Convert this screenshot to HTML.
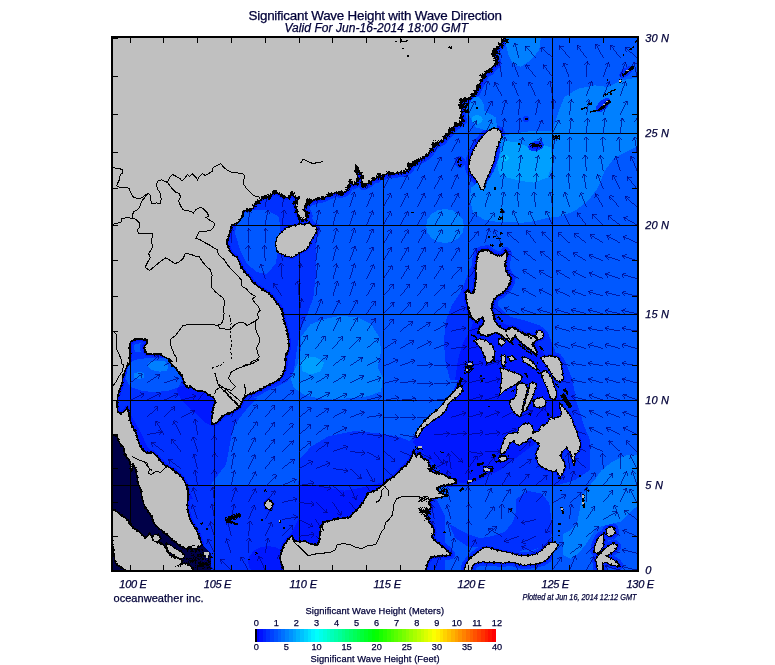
<!DOCTYPE html>
<html lang="en"><head><meta charset="utf-8"><title>Significant Wave Height with Wave Direction</title>
<style>html,body{margin:0;padding:0;background:#fff}body{width:775px;height:665px;overflow:hidden}svg{display:block}text{font-family:"Liberation Sans",Arial,sans-serif;fill:#000038;stroke:#000038;stroke-width:0.25px}.i{font-style:italic}</style></head><body>
<svg width="775" height="665" viewBox="0 0 775 665">
<rect width="775" height="665" fill="#fff"/>
<defs><clipPath id="mc"><rect x="112" y="37" width="526" height="534"/></clipPath></defs>
<g clip-path="url(#mc)" shape-rendering="crispEdges">
<rect x="112" y="37" width="526" height="534" fill="#0058ff"/>
<path d="M220.1,243.7 226.8,226.9 236.9,206.8 253.7,193.4 277.2,190 297.3,193.4 307.3,210.1 314.1,221.9 317.4,226.9 316.7,237 316.1,257.1 315.7,277.2 313.4,297.3 306.7,315.8 300,330.9 296.6,351 293.9,371.1 287.2,381.2 273.8,387.9 260.4,393 247,396.3 233.5,391.3 233.5,324.2 220.1,290.6Z" fill="#0030ff"/>
<path d="M470,268 462,290 452,305 446,320 444,340 445,360 450,380 446,395 435,410 420,425 405,440 392,446 380,446 380,490 415,493 440,493 460,488 470,486 555,486 575,480 590,470 590,440 584.5,427 580.4,413.9 576.3,401.5 574.2,389.1 572.1,378.8 568,368.4 563.9,358.1 555.6,351.9 551.5,341.6 547.3,331.3 539.1,325.1 526.7,321 510.2,316.8 498,306 497,290 490,270Z" fill="#0030ff"/>
<path d="M100,352 214,352 214,398 445,398 445,580 100,580Z" fill="#0030ff"/>
<path d="M516.1,499 527.5,490.7 541.9,493.8 549.2,503.1 551.2,517.6 552.3,532 550.2,538.2 544,546.5 533.7,549.6 521.3,550.6 506.8,550.6 492.4,548.5 480,547.5 467.6,546.5 455.2,538.2 449,523.8 467.6,534.1 480,538.2 492.4,536.2 504.8,532 513,521.7 516.1,511.4Z" fill="#0030ff"/>
<g fill="none" stroke="#0030ff" stroke-width="9" stroke-linejoin="round">
<path d="M100,30 505,30 504.7,36.6 503,40.9 498.7,46.9 494.4,49.4 493.6,55.5 496.1,59.7 497,64 492.7,66.6 490.1,70.9 485.8,72.6 483.3,76.9 480.7,82.1 479,85.5 476.4,91.5 472.1,94.9 469.5,99.2 465.2,99.2 460.9,100.1 460.9,106.1 461.8,111.2 460.9,116.4 462.7,120.7 458.4,124.1 454.1,126.7 451.5,130.1 448.9,133.5 445.5,136.1 442.9,140.4 434.3,144.6 430.9,150.6 427.5,154.9 422.3,158.3 417.2,160.9 412.9,163.5 408.6,164.3 409.5,168.6 405.2,172 398.3,172.9 393.2,173.7 388.9,172.9 383.7,175.5 379.4,175.5 376,178.9 373.4,178.9 370,182.3 366.6,184 363.1,185.8 361.4,181.5 362.3,176.3 359.7,172 357.1,168.6 357.1,173.7 358,178.9 356.3,183.2 353.7,184.9 351.1,182.3 350.3,178.9 349.4,184.9 346,191.8 340.8,193.5 335.7,192.6 328.8,195.2 323.7,197.8 318.5,198.6 313.4,200.3 309.1,201.2 306.5,199.5 307.4,203.8 304.8,208.1 303.9,210.6 306.5,212.4 308.2,215.8 305.6,219.2 302.2,220.1 299.6,218.4 297.6,214.1 296.2,208.9 295.3,203.8 297.1,200.3 297.9,197.8 294.5,196.9 291.9,193.5 289.3,196.9 285.9,197.8 282.5,196.1 278.2,193.5 274.7,191.8 272.2,194.3 268.7,196.9 263.6,196.9 259.3,201.2 255,203.8 253.3,208.1 249.9,209.8 244.7,210.6 243,211.5 243,215.8 240.4,219.2 237.9,222.7 231.8,225.2 230.1,231.2 228.4,238.1 226.7,243.3 228.4,246.7 230.1,251.8 232.7,254.3 237,257.7 239.6,262.9 241.3,267.2 243,269.7 246.4,274 249.9,277.5 252.4,281.7 256.7,285.2 261,288.6 265.3,291.2 269.6,293.8 273,297.2 275.6,301.5 279,305.8 281.6,309.2 282.8,314.4 283.8,320.4 285.9,326.4 287.3,332.4 288.5,339.2 289,346.1 288,351.3 285.9,354.7 285,359.8 285.9,358 285.6,363.1 285,368.3 283.3,373.4 280.8,377.7 276.5,381.2 271.3,383.7 266.2,386.3 260.2,389.7 255,392.3 249.9,394 245.6,395.8 245.6,396.2 243,400.1 241.1,404 239.2,407.2 235.3,409.8 231.4,412.4 226.2,414.3 222.3,416.3 219.8,419.5 217.2,422.7 212.6,424.4 211.3,422.1 212,416.9 212.6,411.7 213.3,406.6 215.2,402.7 214.6,398.8 212,396.9 208.8,394.9 205.5,392.3 202.3,391 197.8,391 193.9,389.1 190,386.5 188.1,388 185.5,385.5 183.8,381.2 182.1,376 178.6,372.6 176.1,368.3 172.6,365.7 169.2,361.4 171.8,361.5 168.3,359 163.2,356.4 159.8,353.8 152.9,354.3 146.9,353.8 145.2,351.3 144.3,346.1 146.9,343.5 146.9,340.1 140.9,338.9 135.7,339.2 130.6,341.8 129.7,346.1 130.3,353 129.2,358.1 129.7,364 128,363.1 125.4,370 122.9,376.9 122,383.7 119.4,390.6 117.7,397.5 116.9,404.3 117.7,411.2 120.3,413.8 124.6,411.2 127.2,407.8 128.9,412.9 129.7,419.8 132.3,426.6 135.7,431.8 137.5,438.7 140,445.5 143.5,450.7 147.8,453.2 152.9,452.4 156.3,455.8 160.6,461 164.9,465.3 170.1,467.8 174.4,470.4 176.1,472.3 180.4,475.7 183.8,480 186.4,485.2 188.1,491.2 188.1,498 187.2,504.9 188.1,511.8 189.8,518.6 192.4,523.8 195.8,528.9 198.4,534.1 200.1,539.2 201.8,544.4 199.2,546.9 194.1,546.1 189.8,546.9 187.2,549.5 183.8,547.8 180.4,546.1 176.1,542.7 171.8,539.2 168.3,535.8 164.1,532.4 159.8,528.9 155.5,525.5 152.9,521.2 152,516.9 148.6,511.8 145.2,507.5 143.5,503.2 141.7,496.3 140.9,489.5 138.3,484.3 137.5,479.2 136.6,474 135.7,468.9 133.2,463.7 131.5,472 130.6,467.8 129.7,461 127.2,457.5 124.6,454.1 123.7,447.2 121.2,445.5 118.6,440.4 116.9,436.1 112.6,435.2 100,435Z"/>
<path d="M299.6,224.4 304.8,225.2 309.1,223.5 311.6,226.1 315.9,227.8 315.9,231.2 313.4,235.5 310.8,239.8 309.1,245 305.6,249.3 300.5,251.7 296.2,254.3 291.9,256.9 285.9,255.1 279.9,252.6 278.2,251.8 276.5,246.7 276.5,241.5 277.3,238.1 279.9,234.7 284.2,231.2 285.9,228.7 291.1,226.9 296.2,226.1Z"/>
<path d="M494.5,128.5 500,131.5 501,137 498.7,142 496.1,148.9 494.4,154.9 493.6,160.9 491,167.7 488.4,173.7 485.8,178.9 484.1,184 483.3,189.2 481,189.2 479.8,184.9 477.3,180.6 473.8,176.3 471.2,172.9 469.5,167.7 470,161 472,155.7 474.7,148.9 479,142 484,136 489,131Z"/>
<path d="M110,508.3 112.6,509.2 116.9,511.8 121.2,515.2 126.3,518.6 129.7,522.9 132.3,527.2 137.5,530.6 141.7,534.1 145.2,537.5 149.5,534.1 152.9,537.5 156.3,541.8 161.5,543.5 164.9,546.1 167.5,551.2 170.1,555.5 174.4,557.2 178.6,558.1 182.9,560.7 180.4,564.1 185.5,563.3 189.8,565 192.4,567.5 194.1,571.8 125.4,571.8 124.9,569.9 120.3,567 115.5,563.4 114.1,556.4 113.3,550 112.1,540.1 110,539.2Z"/>
<path d="M284.2,571.8 281.6,563.3 279.9,558.1 281.6,551.2 284.2,544.4 288.5,539.2 291.9,535.8 294.5,540.9 299.6,541.8 304.8,540.9 309.1,543.5 313.4,544.4 317.7,545.2 319.4,539.2 320.2,532.4 321.1,525.5 323.7,522.1 328.8,521.2 334,519.5 339.1,518.6 346,517.8 350.3,516.9 354.5,511.8 359.7,506.6 363.1,502.3 365.7,497.2 368.3,492.9 371.7,492 376,490.3 379.4,487.7 382.9,485.2 386.3,481.7 391.4,478.3 395.7,474.9 400,470.6 404.3,466.3 405.2,466.1 409.5,461 412,455.8 413.8,451.5 416.3,456.7 419.8,452.4 421.5,457.5 424.9,459.3 428.3,461 429.2,466.1 432.6,469.5 428.3,468.9 432.6,472.3 437.8,473.2 442.9,474 446.4,476.6 451.5,478.3 455.8,480 455.8,482.6 451.5,484.3 446.4,485.2 441.2,486 436.9,487.7 438.6,491.2 442.9,493.7 446.4,495.5 442.1,497.2 436.1,498 430.9,498.9 429.2,503.2 430.9,507.5 427.5,511.8 425.8,516.1 428.3,520.3 430.9,524.6 433.5,528.1 434.3,532.4 431.8,535.8 434.3,540.1 438.6,543.5 442.9,546.9 447.2,550.4 450.7,554.7 446.4,556 441.2,555.5 436.1,556.4 430.9,557.2 428.3,561.5 426.6,565.8 425.8,571.8Z"/>
<path d="M460.9,386.3 461.8,390.6 458.4,394.9 454.1,398.3 449.8,400.9 447.2,405.2 445.5,409.5 442.1,413.8 436.9,417.2 431.8,420.6 427.5,424.1 424.1,426.6 421.5,429.2 419.8,433.5 417.2,436.9 416.3,434.4 418,430.1 421.5,425.8 424.9,421.5 429.2,417.2 434.3,412.9 439.5,408.6 443.8,404.3 446.4,400 449.8,396.6 453.2,393.2 455.8,390.6 458,388Z"/>
<path d="M465.2,571.8 466.1,565 468.7,561.5 471.2,558.1 474.7,555.5 479,552.1 483.3,548.7 487.5,547.8 492.7,549.5 497.8,551.2 503,552.1 509,553 515.9,555.5 522.7,556.4 529.6,556 536.5,554.7 541.6,551.2 545.9,546.9 550.2,543.5 554.5,542.7 557.1,545.2 554.5,549.5 551,553.8 547.6,558.1 542.5,561.5 536.5,563.3 529.6,564.1 522.7,564.6 515.9,562.4 509,561.5 503,562.4 496.1,561.9 489.3,561.5 482.4,561.2 476.4,562.4 472.1,565 470.4,571.8Z"/>
<path d="M594.8,551.2 595.7,546.1 597.4,540.9 600,536.7 603,534.9 603.4,540.9 602.5,546.1 600,550.4 597.4,553Z"/>
<path d="M606.8,529.8 610.3,527.2 613.7,528.1 614.5,532.4 612,534.9 608.5,535.8 606.8,533.2Z"/>
<path d="M605.1,549.5 609.4,546.1 613.7,544 616.8,546.1 613.7,550.4 609.4,553.8 606,555.5 608.5,558.1 613.7,560.7 617.1,563.3 618.8,565.8 614.5,565 609.4,563.3 605.1,561.5 601.7,563.3 602.5,571.8 598.2,571.8 597.4,565 596.5,559.8 599.1,555.5 602.5,552.1Z"/>
<path d="M478.6,252 482.5,250.5 487.2,249.7 491.8,252.8 495.7,255.1 499.6,255.9 503.4,254.3 505.7,251.2 507.3,253.5 506.5,259 505,263.6 505.7,269.8 508.1,274.5 511.2,277.6 510.4,282.2 508.1,286.8 505,290.7 501.1,293.8 497.2,296.1 494.1,299.2 492.6,303.4 491.6,309.6 493.7,314.8 494.7,321 497.8,325.1 501.9,328.2 506.1,330.3 509.2,328.2 512.3,327.2 516.4,329.2 520.5,332.3 524.6,334.4 528.8,334.4 533.9,336.4 538.1,339.5 535,341.6 531.9,344.7 535,347.8 537,351.9 536,355 532.9,351.9 528.8,348.8 524.6,345.7 521.5,342.6 518.4,339.5 515.4,336.4 512.3,339.5 511.2,342.6 508.1,340.6 504,337.5 499.9,334.4 495.7,332.3 491.6,334.4 486.4,336.4 481.3,334.4 478.2,332.3 479.2,328.2 482.3,325.1 484.4,321 482.3,317.9 479.2,318.9 477.2,323 473,318.9 469.9,313.7 467.9,306.5 465.8,298.3 466.3,297.7 465.5,291.5 467.8,290.7 470.9,293.8 474,292.3 474.8,286.8 475.5,281.4 476.3,276 475.5,269.8 476.3,263.6 477.1,257.4Z"/>
<path d="M537,332.3 540.1,330.9 542.8,333.8 542.2,337.9 539.1,339.1 536.6,335.8Z"/>
<path d="M475.1,340.6 480.3,339.5 486.4,341.6 491.6,345.7 494.1,351.9 493.3,357.1 490.6,361.2 487.5,362.3 485.8,358.1 483.8,353 481.3,347.8 478.2,344.1Z"/>
<path d="M499.5,339.5 503,339.1 504.4,342.6 501.9,345.3 499.5,343.3Z"/>
<path d="M501.9,356.1 504.4,355.6 505,361.2 503.6,366.4 501.9,362.3Z"/>
<path d="M509.2,357.1 512.3,356.5 514.3,359.2 511.2,360.6Z"/>
<path d="M523.3,357.8 526.6,358.5 530.5,361 534.3,364.9 536.9,368.8 534.3,368.2 531.1,365.6 527.2,363 524,361Z"/>
<path d="M541.4,357.8 549.9,356.5 557.6,357.8 560.9,363.6 561.5,372.7 562.8,377.9 560.2,381.1 556.3,379.2 552.4,374 548.6,367.5 544.7,362.3Z"/>
<path d="M542.1,372.7 546,371.4 549.9,376.6 552.4,381.7 553.7,386.9 556.3,393.4 555,398.6 551.2,397.9 549.2,392.1 547.3,386.9 544.7,381.7 542.7,376.6Z"/>
<path d="M501.3,368.8 505.9,370.1 512.3,372.7 518.8,374.6 521.4,376.6 520.1,380.5 516.2,383 512.3,385.6 507.2,388.2 503.3,390.8 500.7,393.4 501.3,386.9 502.6,379.2Z"/>
<path d="M517.4,385 521.5,383.9 525.7,385 526.7,389.1 525.7,394.3 523.6,399.4 522.6,405.6 521.5,411.8 519.5,415.9 515.4,412.8 512.3,408.7 510.2,403.5 511.2,400.4 515.4,398.4 517.4,392.2Z"/>
<path d="M530.8,383.9 533.9,382.9 536,385 533.9,391.2 531.9,397.3 528.8,403.5 525.7,409.7 523.6,410.8 524.6,405.6 526.7,399.4 529.2,392.2Z"/>
<path d="M533.9,401.5 537,399 542.2,398.4 545.3,401.1 544.9,404.6 541.2,406.6 536.6,406.6 533.9,404.6Z"/>
<path d="M560.6,405.1 562.9,408.2 566,411.3 569.1,415.2 571.4,419.8 573,425.3 575.3,429.9 576.8,434.6 578.4,439.2 579.9,443.8 579.2,448.5 576.8,452.4 574.5,453.9 573.7,462.4 572.5,457.8 571.4,453.1 569.1,450 566.8,446.9 564.5,448.5 561.4,451.6 559.8,455.5 561.4,459.3 563.7,462.4 564.5,467.1 562.9,471.7 560.6,475.6 558.3,473.3 556.7,469.4 554.4,470.9 550.5,470.2 546.6,468.6 542,466.3 538.9,463.2 537.4,459.3 536.6,454.7 538.1,450 540.5,446.2 538.9,443.1 535.8,440.7 532.7,438.4 530.4,436.9 528.1,438.4 525.7,441.5 522.6,442.3 519.6,444.6 516.5,443.8 514.1,440.7 511,441.5 508.7,443.8 507.2,447.7 504.8,451.6 501.7,453.1 501,450 502.5,446.2 504.1,441.5 505.6,437.6 508.7,434.6 513.4,433.8 518,433 519.6,428.4 521.9,426 525.7,423.7 529.6,424.5 531.9,426.8 532.7,431.5 531.9,434.6 535,433 539.7,431.5 541.2,426.8 545.9,425.3 549,422.2 550.5,418.3 554.4,419.1 558.3,417.5 561.4,416.7 562.1,412.1 560.6,408.2Z"/>
<path d="M499.4,457.8 501.7,456.2 504.8,457 505.6,459.3 503.3,461.2 500.2,460.6Z"/>
<path d="M153.8,535.8 157.2,534.9 159.8,537.5 158.9,540.9 155.5,541.3 153.2,538.9Z"/>
<path d="M166.6,544.4 170.9,546.1 175.2,549.5 179.5,551.2 183.8,555.5 182.9,558.1 178.6,557.2 174.4,554.7 170.1,552.1 167.5,548.7Z"/>
<path d="M268.7,500.1 272.5,504 270.5,508.7 266.7,508 265,504Z"/>
</g>
<path d="M478,312 470,330 462,345 458,360 455,380 448,400 436,415 424,430 412,442 425,455 440,470 455,482 470,484 500,470 520,455 540,440 552,430 560,415 560,400 556,385 550,370 545,355 538,345 530,335 515,328 500,322 490,315Z" fill="#0018ff"/>
<path d="M176.9,387.2 183.8,385.5 192.4,388.9 201,392.3 214.7,399.2 215.5,409.5 213,426.6 206.1,423.2 199.2,416.3 190.7,409.5 183.8,402.6 177.8,394Z" fill="#0018ff"/>
<path d="M132.7,418.1 141,432.6 147.2,447 157.5,455.3 169.9,465.6 182.3,478 188.4,487.1 192.6,498.6 178.1,498.6 165.7,473.9 151.3,461.5 138.9,449.1 132.7,436.7 129.6,424.3Z" fill="#0018ff"/>
<path d="M299.6,485.4 313.8,485.4 329.4,488 344.9,490.6 360.4,488 370.8,485.4 381,482.8 391.5,477.6 405,470 425,455 425,510 355.2,530 321.6,535 319,545 299.6,545 290.6,534.5 299.6,516.4Z" fill="#0018ff"/>
<path d="M288,562 286.5,568.1 282.1,573.3 275.7,576.8 268,578 260.3,576.8 253.9,573.3 249.5,568.1 248,562 249.5,555.9 253.9,550.7 260.3,547.2 268,546 275.7,547.2 282.1,550.7 286.5,555.9Z" fill="#0018ff"/>
<g fill="none" stroke="#0018ff" stroke-width="4.5" stroke-linejoin="round">
<path d="M100,30 505,30 504.7,36.6 503,40.9 498.7,46.9 494.4,49.4 493.6,55.5 496.1,59.7 497,64 492.7,66.6 490.1,70.9 485.8,72.6 483.3,76.9 480.7,82.1 479,85.5 476.4,91.5 472.1,94.9 469.5,99.2 465.2,99.2 460.9,100.1 460.9,106.1 461.8,111.2 460.9,116.4 462.7,120.7 458.4,124.1 454.1,126.7 451.5,130.1 448.9,133.5 445.5,136.1 442.9,140.4 434.3,144.6 430.9,150.6 427.5,154.9 422.3,158.3 417.2,160.9 412.9,163.5 408.6,164.3 409.5,168.6 405.2,172 398.3,172.9 393.2,173.7 388.9,172.9 383.7,175.5 379.4,175.5 376,178.9 373.4,178.9 370,182.3 366.6,184 363.1,185.8 361.4,181.5 362.3,176.3 359.7,172 357.1,168.6 357.1,173.7 358,178.9 356.3,183.2 353.7,184.9 351.1,182.3 350.3,178.9 349.4,184.9 346,191.8 340.8,193.5 335.7,192.6 328.8,195.2 323.7,197.8 318.5,198.6 313.4,200.3 309.1,201.2 306.5,199.5 307.4,203.8 304.8,208.1 303.9,210.6 306.5,212.4 308.2,215.8 305.6,219.2 302.2,220.1 299.6,218.4 297.6,214.1 296.2,208.9 295.3,203.8 297.1,200.3 297.9,197.8 294.5,196.9 291.9,193.5 289.3,196.9 285.9,197.8 282.5,196.1 278.2,193.5 274.7,191.8 272.2,194.3 268.7,196.9 263.6,196.9 259.3,201.2 255,203.8 253.3,208.1 249.9,209.8 244.7,210.6 243,211.5 243,215.8 240.4,219.2 237.9,222.7 231.8,225.2 230.1,231.2 228.4,238.1 226.7,243.3 228.4,246.7 230.1,251.8 232.7,254.3 237,257.7 239.6,262.9 241.3,267.2 243,269.7 246.4,274 249.9,277.5 252.4,281.7 256.7,285.2 261,288.6 265.3,291.2 269.6,293.8 273,297.2 275.6,301.5 279,305.8 281.6,309.2 282.8,314.4 283.8,320.4 285.9,326.4 287.3,332.4 288.5,339.2 289,346.1 288,351.3 285.9,354.7 285,359.8 285.9,358 285.6,363.1 285,368.3 283.3,373.4 280.8,377.7 276.5,381.2 271.3,383.7 266.2,386.3 260.2,389.7 255,392.3 249.9,394 245.6,395.8 245.6,396.2 243,400.1 241.1,404 239.2,407.2 235.3,409.8 231.4,412.4 226.2,414.3 222.3,416.3 219.8,419.5 217.2,422.7 212.6,424.4 211.3,422.1 212,416.9 212.6,411.7 213.3,406.6 215.2,402.7 214.6,398.8 212,396.9 208.8,394.9 205.5,392.3 202.3,391 197.8,391 193.9,389.1 190,386.5 188.1,388 185.5,385.5 183.8,381.2 182.1,376 178.6,372.6 176.1,368.3 172.6,365.7 169.2,361.4 171.8,361.5 168.3,359 163.2,356.4 159.8,353.8 152.9,354.3 146.9,353.8 145.2,351.3 144.3,346.1 146.9,343.5 146.9,340.1 140.9,338.9 135.7,339.2 130.6,341.8 129.7,346.1 130.3,353 129.2,358.1 129.7,364 128,363.1 125.4,370 122.9,376.9 122,383.7 119.4,390.6 117.7,397.5 116.9,404.3 117.7,411.2 120.3,413.8 124.6,411.2 127.2,407.8 128.9,412.9 129.7,419.8 132.3,426.6 135.7,431.8 137.5,438.7 140,445.5 143.5,450.7 147.8,453.2 152.9,452.4 156.3,455.8 160.6,461 164.9,465.3 170.1,467.8 174.4,470.4 176.1,472.3 180.4,475.7 183.8,480 186.4,485.2 188.1,491.2 188.1,498 187.2,504.9 188.1,511.8 189.8,518.6 192.4,523.8 195.8,528.9 198.4,534.1 200.1,539.2 201.8,544.4 199.2,546.9 194.1,546.1 189.8,546.9 187.2,549.5 183.8,547.8 180.4,546.1 176.1,542.7 171.8,539.2 168.3,535.8 164.1,532.4 159.8,528.9 155.5,525.5 152.9,521.2 152,516.9 148.6,511.8 145.2,507.5 143.5,503.2 141.7,496.3 140.9,489.5 138.3,484.3 137.5,479.2 136.6,474 135.7,468.9 133.2,463.7 131.5,472 130.6,467.8 129.7,461 127.2,457.5 124.6,454.1 123.7,447.2 121.2,445.5 118.6,440.4 116.9,436.1 112.6,435.2 100,435Z"/>
<path d="M299.6,224.4 304.8,225.2 309.1,223.5 311.6,226.1 315.9,227.8 315.9,231.2 313.4,235.5 310.8,239.8 309.1,245 305.6,249.3 300.5,251.7 296.2,254.3 291.9,256.9 285.9,255.1 279.9,252.6 278.2,251.8 276.5,246.7 276.5,241.5 277.3,238.1 279.9,234.7 284.2,231.2 285.9,228.7 291.1,226.9 296.2,226.1Z"/>
<path d="M494.5,128.5 500,131.5 501,137 498.7,142 496.1,148.9 494.4,154.9 493.6,160.9 491,167.7 488.4,173.7 485.8,178.9 484.1,184 483.3,189.2 481,189.2 479.8,184.9 477.3,180.6 473.8,176.3 471.2,172.9 469.5,167.7 470,161 472,155.7 474.7,148.9 479,142 484,136 489,131Z"/>
<path d="M110,508.3 112.6,509.2 116.9,511.8 121.2,515.2 126.3,518.6 129.7,522.9 132.3,527.2 137.5,530.6 141.7,534.1 145.2,537.5 149.5,534.1 152.9,537.5 156.3,541.8 161.5,543.5 164.9,546.1 167.5,551.2 170.1,555.5 174.4,557.2 178.6,558.1 182.9,560.7 180.4,564.1 185.5,563.3 189.8,565 192.4,567.5 194.1,571.8 125.4,571.8 124.9,569.9 120.3,567 115.5,563.4 114.1,556.4 113.3,550 112.1,540.1 110,539.2Z"/>
<path d="M284.2,571.8 281.6,563.3 279.9,558.1 281.6,551.2 284.2,544.4 288.5,539.2 291.9,535.8 294.5,540.9 299.6,541.8 304.8,540.9 309.1,543.5 313.4,544.4 317.7,545.2 319.4,539.2 320.2,532.4 321.1,525.5 323.7,522.1 328.8,521.2 334,519.5 339.1,518.6 346,517.8 350.3,516.9 354.5,511.8 359.7,506.6 363.1,502.3 365.7,497.2 368.3,492.9 371.7,492 376,490.3 379.4,487.7 382.9,485.2 386.3,481.7 391.4,478.3 395.7,474.9 400,470.6 404.3,466.3 405.2,466.1 409.5,461 412,455.8 413.8,451.5 416.3,456.7 419.8,452.4 421.5,457.5 424.9,459.3 428.3,461 429.2,466.1 432.6,469.5 428.3,468.9 432.6,472.3 437.8,473.2 442.9,474 446.4,476.6 451.5,478.3 455.8,480 455.8,482.6 451.5,484.3 446.4,485.2 441.2,486 436.9,487.7 438.6,491.2 442.9,493.7 446.4,495.5 442.1,497.2 436.1,498 430.9,498.9 429.2,503.2 430.9,507.5 427.5,511.8 425.8,516.1 428.3,520.3 430.9,524.6 433.5,528.1 434.3,532.4 431.8,535.8 434.3,540.1 438.6,543.5 442.9,546.9 447.2,550.4 450.7,554.7 446.4,556 441.2,555.5 436.1,556.4 430.9,557.2 428.3,561.5 426.6,565.8 425.8,571.8Z"/>
<path d="M460.9,386.3 461.8,390.6 458.4,394.9 454.1,398.3 449.8,400.9 447.2,405.2 445.5,409.5 442.1,413.8 436.9,417.2 431.8,420.6 427.5,424.1 424.1,426.6 421.5,429.2 419.8,433.5 417.2,436.9 416.3,434.4 418,430.1 421.5,425.8 424.9,421.5 429.2,417.2 434.3,412.9 439.5,408.6 443.8,404.3 446.4,400 449.8,396.6 453.2,393.2 455.8,390.6 458,388Z"/>
<path d="M465.2,571.8 466.1,565 468.7,561.5 471.2,558.1 474.7,555.5 479,552.1 483.3,548.7 487.5,547.8 492.7,549.5 497.8,551.2 503,552.1 509,553 515.9,555.5 522.7,556.4 529.6,556 536.5,554.7 541.6,551.2 545.9,546.9 550.2,543.5 554.5,542.7 557.1,545.2 554.5,549.5 551,553.8 547.6,558.1 542.5,561.5 536.5,563.3 529.6,564.1 522.7,564.6 515.9,562.4 509,561.5 503,562.4 496.1,561.9 489.3,561.5 482.4,561.2 476.4,562.4 472.1,565 470.4,571.8Z"/>
<path d="M594.8,551.2 595.7,546.1 597.4,540.9 600,536.7 603,534.9 603.4,540.9 602.5,546.1 600,550.4 597.4,553Z"/>
<path d="M606.8,529.8 610.3,527.2 613.7,528.1 614.5,532.4 612,534.9 608.5,535.8 606.8,533.2Z"/>
<path d="M605.1,549.5 609.4,546.1 613.7,544 616.8,546.1 613.7,550.4 609.4,553.8 606,555.5 608.5,558.1 613.7,560.7 617.1,563.3 618.8,565.8 614.5,565 609.4,563.3 605.1,561.5 601.7,563.3 602.5,571.8 598.2,571.8 597.4,565 596.5,559.8 599.1,555.5 602.5,552.1Z"/>
<path d="M478.6,252 482.5,250.5 487.2,249.7 491.8,252.8 495.7,255.1 499.6,255.9 503.4,254.3 505.7,251.2 507.3,253.5 506.5,259 505,263.6 505.7,269.8 508.1,274.5 511.2,277.6 510.4,282.2 508.1,286.8 505,290.7 501.1,293.8 497.2,296.1 494.1,299.2 492.6,303.4 491.6,309.6 493.7,314.8 494.7,321 497.8,325.1 501.9,328.2 506.1,330.3 509.2,328.2 512.3,327.2 516.4,329.2 520.5,332.3 524.6,334.4 528.8,334.4 533.9,336.4 538.1,339.5 535,341.6 531.9,344.7 535,347.8 537,351.9 536,355 532.9,351.9 528.8,348.8 524.6,345.7 521.5,342.6 518.4,339.5 515.4,336.4 512.3,339.5 511.2,342.6 508.1,340.6 504,337.5 499.9,334.4 495.7,332.3 491.6,334.4 486.4,336.4 481.3,334.4 478.2,332.3 479.2,328.2 482.3,325.1 484.4,321 482.3,317.9 479.2,318.9 477.2,323 473,318.9 469.9,313.7 467.9,306.5 465.8,298.3 466.3,297.7 465.5,291.5 467.8,290.7 470.9,293.8 474,292.3 474.8,286.8 475.5,281.4 476.3,276 475.5,269.8 476.3,263.6 477.1,257.4Z"/>
<path d="M537,332.3 540.1,330.9 542.8,333.8 542.2,337.9 539.1,339.1 536.6,335.8Z"/>
<path d="M475.1,340.6 480.3,339.5 486.4,341.6 491.6,345.7 494.1,351.9 493.3,357.1 490.6,361.2 487.5,362.3 485.8,358.1 483.8,353 481.3,347.8 478.2,344.1Z"/>
<path d="M499.5,339.5 503,339.1 504.4,342.6 501.9,345.3 499.5,343.3Z"/>
<path d="M501.9,356.1 504.4,355.6 505,361.2 503.6,366.4 501.9,362.3Z"/>
<path d="M509.2,357.1 512.3,356.5 514.3,359.2 511.2,360.6Z"/>
<path d="M523.3,357.8 526.6,358.5 530.5,361 534.3,364.9 536.9,368.8 534.3,368.2 531.1,365.6 527.2,363 524,361Z"/>
<path d="M541.4,357.8 549.9,356.5 557.6,357.8 560.9,363.6 561.5,372.7 562.8,377.9 560.2,381.1 556.3,379.2 552.4,374 548.6,367.5 544.7,362.3Z"/>
<path d="M542.1,372.7 546,371.4 549.9,376.6 552.4,381.7 553.7,386.9 556.3,393.4 555,398.6 551.2,397.9 549.2,392.1 547.3,386.9 544.7,381.7 542.7,376.6Z"/>
<path d="M501.3,368.8 505.9,370.1 512.3,372.7 518.8,374.6 521.4,376.6 520.1,380.5 516.2,383 512.3,385.6 507.2,388.2 503.3,390.8 500.7,393.4 501.3,386.9 502.6,379.2Z"/>
<path d="M517.4,385 521.5,383.9 525.7,385 526.7,389.1 525.7,394.3 523.6,399.4 522.6,405.6 521.5,411.8 519.5,415.9 515.4,412.8 512.3,408.7 510.2,403.5 511.2,400.4 515.4,398.4 517.4,392.2Z"/>
<path d="M530.8,383.9 533.9,382.9 536,385 533.9,391.2 531.9,397.3 528.8,403.5 525.7,409.7 523.6,410.8 524.6,405.6 526.7,399.4 529.2,392.2Z"/>
<path d="M533.9,401.5 537,399 542.2,398.4 545.3,401.1 544.9,404.6 541.2,406.6 536.6,406.6 533.9,404.6Z"/>
<path d="M560.6,405.1 562.9,408.2 566,411.3 569.1,415.2 571.4,419.8 573,425.3 575.3,429.9 576.8,434.6 578.4,439.2 579.9,443.8 579.2,448.5 576.8,452.4 574.5,453.9 573.7,462.4 572.5,457.8 571.4,453.1 569.1,450 566.8,446.9 564.5,448.5 561.4,451.6 559.8,455.5 561.4,459.3 563.7,462.4 564.5,467.1 562.9,471.7 560.6,475.6 558.3,473.3 556.7,469.4 554.4,470.9 550.5,470.2 546.6,468.6 542,466.3 538.9,463.2 537.4,459.3 536.6,454.7 538.1,450 540.5,446.2 538.9,443.1 535.8,440.7 532.7,438.4 530.4,436.9 528.1,438.4 525.7,441.5 522.6,442.3 519.6,444.6 516.5,443.8 514.1,440.7 511,441.5 508.7,443.8 507.2,447.7 504.8,451.6 501.7,453.1 501,450 502.5,446.2 504.1,441.5 505.6,437.6 508.7,434.6 513.4,433.8 518,433 519.6,428.4 521.9,426 525.7,423.7 529.6,424.5 531.9,426.8 532.7,431.5 531.9,434.6 535,433 539.7,431.5 541.2,426.8 545.9,425.3 549,422.2 550.5,418.3 554.4,419.1 558.3,417.5 561.4,416.7 562.1,412.1 560.6,408.2Z"/>
<path d="M499.4,457.8 501.7,456.2 504.8,457 505.6,459.3 503.3,461.2 500.2,460.6Z"/>
<path d="M153.8,535.8 157.2,534.9 159.8,537.5 158.9,540.9 155.5,541.3 153.2,538.9Z"/>
<path d="M166.6,544.4 170.9,546.1 175.2,549.5 179.5,551.2 183.8,555.5 182.9,558.1 178.6,557.2 174.4,554.7 170.1,552.1 167.5,548.7Z"/>
<path d="M268.7,500.1 272.5,504 270.5,508.7 266.7,508 265,504Z"/>
</g>
<path d="M106.6,429.2 120.1,429.2 130.1,445.9 136.8,459.3 143.5,472.8 153.6,486.2 163.7,499.6 177.1,513 190.5,529.8 200.6,543.2 210.6,553.3 210.6,576.8 106.6,576.8Z" fill="#000048"/>
<path d="M236.9,216.8 250.3,210.1 267.1,210.1 278.8,216.8 280.5,230.3 278.8,247 275.5,263.8 267.1,273.9 257,272.2 247,263.8 240.3,250.4 235.2,233.6Z" fill="#0058ff"/>
<path d="M259.5,396 300,380 458,380 453,392 441,405 429,420 417,434 409,441 400,437 381,433.6 355,431 329,436 311,446.6 299.6,459.5 298.3,485.4 210.3,485.4 225.9,464.7 233.6,425.9 246,410Z" fill="#0058ff"/>
<path d="M128.9,363.1 135.7,359.7 147.8,358 166.6,358 178.6,372.6 182.1,380.3 178.6,387.2 168.3,390.6 154.6,392.3 140.9,390.6 130.6,387.2 125.4,378.6Z" fill="#0058ff"/>
<path d="M428.4,486.6 459.4,486.6 480,486.6 513,486.6 527.5,490.7 516.1,499 516.1,511.4 513,521.7 504.8,532 492.4,536.2 480,538.2 467.6,534.1 449,523.8 438.7,503.1Z" fill="#0058ff"/>
<path d="M552.3,486.6 579.1,486.6 579.1,513.4 577,523.8 570.8,530 562.6,534.1 562.6,558.9 552.3,558.9Z" fill="#0058ff"/>
<path d="M499,137.3 510.7,134 534.2,130.6 552.6,130.6 557.7,113.9 564.4,97.1 577.8,88.7 594.6,85.4 608,87 621.4,80.3 641.5,77 641.5,144.1 628.1,150.8 614.7,157.5 604.6,170.9 597.9,187.7 587.9,201.1 574.4,211.1 561,216.2 547.6,217.9 534.2,221.2 520.8,222.9 510.7,221.9 497.3,221.9 483.9,219.5 473.1,212.8 469.8,199.4 471.1,187.7 478.8,181.6 487.9,181 493.9,170.9 499,157.5 500.6,147.4Z" fill="#0080ff"/>
<path d="M504,36.7 540.9,36.7 539.2,50.1 530.8,60.2 520.8,66.9 512.4,63.5 508,53.5Z" fill="#0080ff"/>
<path d="M472.1,113.9 483.9,110.5 495.6,117.2 497.3,127.3 487.2,130.6 475.5,127.3Z" fill="#0080ff"/>
<path d="M464,226 462.6,232.5 458.4,238 452.3,241.7 445,243 437.7,241.7 431.6,238 427.4,232.5 426,226 427.4,219.5 431.6,214 437.7,210.3 445,209 452.3,210.3 458.4,214 462.6,219.5Z" fill="#0080ff"/>
<path d="M300.6,337.6 310.7,324.2 324.1,319.2 340.9,315.8 357.7,317.5 371.1,324.2 379.5,337.6 381.1,351 377.8,367.8 382.8,377.9 381.1,391.3 367.7,396.3 351,398 334.2,399.7 317.4,398 304,394.6 293.9,387.9 290.6,377.9 297.3,364.4 300.6,351Z" fill="#0080ff"/>
<path d="M643.1,454.6 624.5,455.6 612.1,461.8 601.8,470.1 595.6,478.4 587.3,488.7 581.2,501.1 579.1,513.4 577,523.8 570.8,530 562.6,534.1 562.6,554.7 570.8,558.9 579.1,552.7 587.3,542.3 593.5,532 595.6,527.9 603.9,525.8 620.4,521.7 632.8,509.3 643.1,503.1Z" fill="#0080ff"/>
<path d="M148.6,362.3 154.6,360.6 164.9,361.4 168.3,366.6 166.6,370.9 159.8,371.7 152,370 148.1,366.6Z" fill="#0080ff"/>
<path d="M134,373.4 139.2,371.7 144.3,373.4 143.5,377.7 138.3,379.5 134,377.7Z" fill="#0080ff"/>
<path d="M504,140.7 517.4,142.4 529.2,147.4 540.9,144.1 551,147.4 552.6,164.2 547.6,177.6 534.2,182.6 520.8,181 507.3,177.6 499,174.2 497.3,164.2 500.6,154.1Z" fill="#00a0ff"/>
<path d="M300.6,361.1 307.3,356.1 317.4,357.7 324.1,362.8 320.8,371.1 310.7,374.5 302.3,371.1Z" fill="#00a0ff"/>
<path d="M632.3,67.1 632.7,68.9 631.9,71.4 629.8,74 627,76.2 624,77.5 621.4,77.8 619.7,76.9 619.3,75.1 620.1,72.6 622.2,70 625,67.8 628,66.5 630.6,66.2Z" fill="#0030ff"/>
<path d="M609.4,98.6 610.1,100.6 609.5,103.5 607.5,106.7 604.7,109.5 601.5,111.5 598.6,112.1 596.6,111.4 595.9,109.4 596.5,106.5 598.5,103.3 601.3,100.5 604.5,98.5 607.4,97.9Z" fill="#0030ff"/>
<path d="M543.7,143.9 543.5,146.2 541.8,148.5 539,150.2 535.5,151.2 532.2,151.1 529.6,150 528.3,148.1 528.5,145.8 530.2,143.5 533,141.8 536.5,140.8 539.8,140.9 542.4,142Z" fill="#0030ff"/>
<path d="M540.8,144.7 540.7,146.1 539.6,147.5 537.8,148.5 535.7,149.1 533.6,149.1 532,148.4 531.2,147.3 531.3,145.9 532.4,144.5 534.2,143.5 536.3,142.9 538.4,142.9 540,143.6Z" fill="#0018ff"/>
<path d="M529.5,119 529.2,120.3 528.2,121.3 526.8,121.9 525.2,121.9 523.8,121.3 522.8,120.3 522.5,119 522.8,117.7 523.8,116.7 525.2,116.1 526.8,116.1 528.2,116.7 529.2,117.7Z" fill="#0030ff"/>
<path d="M465,162 464.5,164.6 463.1,166.7 461.1,167.8 458.9,167.8 456.9,166.7 455.5,164.6 455,162 455.5,159.4 456.9,157.3 458.9,156.2 461.1,156.2 463.1,157.3 464.5,159.4Z" fill="#0030ff"/>
<path d="M484.5,110 483.7,115.6 481.5,120.2 478.3,122.7 474.7,122.7 471.5,120.2 469.3,115.6 468.5,110 469.3,104.4 471.5,99.8 474.7,97.3 478.3,97.3 481.5,99.8 483.7,104.4Z" fill="#0080ff"/>
<path d="M482.5,119.5 482,121.5 480.4,123 478.2,123.9 475.8,123.9 473.6,123 472,121.5 471.5,119.5 472,117.5 473.6,116 475.8,115.1 478.2,115.1 480.4,116 482,117.5Z" fill="#00a0ff"/>
<path d="M509,158 508.6,159.3 507.5,160.3 505.9,160.9 504.1,160.9 502.5,160.3 501.4,159.3 501,158 501.4,156.7 502.5,155.7 504.1,155.1 505.9,155.1 507.5,155.7 508.6,156.7Z" fill="#00c0ff"/>
<g stroke="#000" stroke-width="1" fill="none">
<line x1="130.5" y1="37" x2="130.5" y2="571"/>
<line x1="214.5" y1="37" x2="214.5" y2="571"/>
<line x1="299.5" y1="37" x2="299.5" y2="571"/>
<line x1="383.5" y1="37" x2="383.5" y2="571"/>
<line x1="468.5" y1="37" x2="468.5" y2="571"/>
<line x1="552.5" y1="37" x2="552.5" y2="571"/>
<line x1="112" y1="485.5" x2="638" y2="485.5"/>
<line x1="112" y1="400.5" x2="638" y2="400.5"/>
<line x1="112" y1="314.5" x2="638" y2="314.5"/>
<line x1="112" y1="225.5" x2="638" y2="225.5"/>
<line x1="112" y1="133.5" x2="638" y2="133.5"/>
</g>
<g stroke="#000080" stroke-width="0.7" fill="none" shape-rendering="crispEdges">
<path d="M130.1,400.2L144.1,393.7M139.7,392.8L144.1,393.7L141.9,397.6M130.1,383.0L142.4,373.7M137.9,373.8L142.4,373.7L141.1,378.0M147.0,434.5L162.3,432.0M158.2,430.0L162.3,432.0L159.1,435.2M147.0,417.4L158.1,406.6M153.6,407.2L158.1,406.6L157.3,411.0M147.0,400.2L160.8,393.2M156.3,392.5L160.8,393.2L158.7,397.2M147.0,383.0L159.8,374.4M155.3,374.2L159.8,374.4L158.3,378.6M147.0,365.8L158.8,355.8M154.3,356.2L158.8,355.8L157.7,360.2M163.9,451.5L151.3,442.4M152.7,446.7L151.3,442.4L155.8,442.4M163.9,434.5L155.9,421.2M155.5,425.7L155.9,421.2L160.0,422.9M163.9,417.4L175.0,406.6M170.5,407.2L175.0,406.6L174.2,411.0M163.9,400.2L178.0,393.9M173.6,393.0L178.0,393.9L175.8,397.8M163.9,383.0L178.6,378.3M174.3,376.9L178.6,378.3L175.9,381.9M163.9,365.8L177.3,358.1M172.8,357.6L177.3,358.1L175.4,362.2M180.8,468.5L168.4,459.2M169.7,463.5L168.4,459.2L172.9,459.3M180.8,451.5L171.4,439.1M171.5,443.6L171.4,439.1L175.7,440.4M180.8,434.5L173.5,420.8M172.8,425.2L173.5,420.8L177.5,422.7M180.8,417.4L194.8,410.8M190.4,410.0L194.8,410.8L192.6,414.8M180.8,400.2L195.7,396.2M191.5,394.6L195.7,396.2L192.9,399.7M180.8,383.0L195.1,377.1M190.7,376.1L195.1,377.1L192.7,381.0M197.7,519.4L192.3,504.8M191.1,509.1L192.3,504.8L196.1,507.3M197.7,502.4L193.1,487.6M191.7,491.9L193.1,487.6L196.7,490.3M197.7,485.5L195.0,470.2M193.0,474.3L195.0,470.2L198.2,473.4M197.7,468.5L193.9,453.5M192.2,457.6L193.9,453.5L197.3,456.4M197.7,451.5L192.9,436.8M191.5,441.0L192.9,436.8L196.5,439.4M197.7,434.5L195.0,419.2M193.0,423.2L195.0,419.2L198.2,422.3M197.7,400.2L207.9,388.6M203.5,389.6L207.9,388.6L207.5,393.1M214.6,570.1L203.4,559.3M204.2,563.8L203.4,559.3L207.9,560.0M214.6,553.2L207.5,539.4M206.8,543.8L207.5,539.4L211.5,541.4M214.6,536.3L210.0,521.5M208.6,525.7L210.0,521.5L213.6,524.2M214.6,519.4L211.9,504.1M209.9,508.2L211.9,504.1L215.1,507.2M214.6,502.4L212.7,487.1M210.5,491.0L212.7,487.1L215.7,490.4M214.6,485.5L214.3,470.0M211.7,473.7L214.3,470.0L217.0,473.6M214.6,468.5L214.8,453.0M212.1,456.6L214.8,453.0L217.4,456.7M214.6,451.5L214.3,436.0M211.7,439.7L214.3,436.0L217.0,439.6M214.6,434.5L214.6,419.0M211.9,422.6L214.6,419.0L217.2,422.6M231.4,570.1L220.5,559.1M221.2,563.6L220.5,559.1L224.9,559.8M231.4,553.2L226.4,538.5M225.1,542.8L226.4,538.5L230.1,541.1M231.4,536.3L227.7,521.3M226.0,525.4L227.7,521.3L231.1,524.1M231.4,519.4L234.1,504.1M230.9,507.2L234.1,504.1L236.1,508.2M231.4,502.4L236.0,487.6M232.4,490.3L236.0,487.6L237.4,491.9M231.4,485.5L234.4,470.3M231.1,473.3L234.4,470.3L236.3,474.4M231.4,468.5L234.1,453.2M230.9,456.4L234.1,453.2L236.1,457.3M231.4,451.5L235.2,436.5M231.8,439.4L235.2,436.5L236.9,440.6M231.4,434.5L235.5,419.5M232.0,422.3L235.5,419.5L237.1,423.7M231.4,417.4L236.8,402.8M233.0,405.3L236.8,402.8L238.0,407.1M231.4,242.9L231.4,227.4M228.8,231.1L231.4,227.4L234.1,231.1M248.3,570.1L240.6,556.7M240.1,561.2L240.6,556.7L244.7,558.5M248.3,553.2L249.2,537.7M246.3,541.2L249.2,537.7L251.6,541.5M248.3,536.3L250.2,520.9M247.2,524.2L250.2,520.9L252.4,524.8M248.3,519.4L254.7,505.2M250.8,507.5L254.7,505.2L255.6,509.6M248.3,502.4L255.6,488.8M251.6,490.7L255.6,488.8L256.3,493.2M248.3,485.5L255.6,471.8M251.6,473.8L255.6,471.8L256.3,476.3M248.3,468.5L255.1,454.6M251.2,456.7L255.1,454.6L255.9,459.0M248.3,451.5L255.1,437.6M251.2,439.7L255.1,437.6L255.9,442.0M248.3,434.5L257.0,421.6M252.8,423.1L257.0,421.6L257.2,426.1M248.3,417.4L257.0,404.5M252.8,406.1L257.0,404.5L257.2,409.0M248.3,400.2L257.7,387.8M253.4,389.2L257.7,387.8L257.6,392.3M248.3,260.8L248.3,245.3M245.7,248.9L248.3,245.3L251.0,248.9M248.3,242.9L248.9,227.5M246.1,231.0L248.9,227.5L251.4,231.2M248.3,225.0L249.7,209.6M246.7,213.0L249.7,209.6L252.0,213.4M265.2,570.1L258.7,556.1M257.8,560.5L258.7,556.1L262.6,558.2M265.2,553.2L267.9,537.9M264.7,541.1L267.9,537.9L269.9,542.0M265.2,536.3L271.6,522.1M267.7,524.4L271.6,522.1L272.5,526.5M265.2,519.4L272.3,505.6M268.3,507.6L272.3,505.6L273.0,510.0M265.2,502.4L275.2,490.6M270.8,491.7L275.2,490.6L274.9,495.1M265.2,485.5L276.2,474.5M271.8,475.2L276.2,474.5L275.5,479.0M265.2,468.5L274.8,456.3M270.5,457.5L274.8,456.3L274.6,460.8M265.2,451.5L274.8,439.3M270.5,440.5L274.8,439.3L274.6,443.8M265.2,434.5L274.8,422.2M270.5,423.5L274.8,422.2L274.6,426.7M265.2,417.4L275.0,405.3M270.7,406.5L275.0,405.3L274.8,409.8M265.2,400.2L275.8,388.9M271.4,389.8L275.8,388.9L275.3,393.4M265.2,278.5L260.7,263.7M259.3,267.9L260.7,263.7L264.3,266.4M265.2,260.8L264.2,245.3M261.8,249.1L264.2,245.3L267.1,248.8M265.2,242.9L265.8,227.5M263.0,231.0L265.8,227.5L268.3,231.2M265.2,225.0L267.9,209.8M264.7,212.9L267.9,209.8L269.9,213.8M265.2,207.0L267.5,191.6M264.4,194.9L267.5,191.6L269.6,195.6M282.1,570.1L278.9,555.0M277.1,559.1L278.9,555.0L282.2,557.9M282.1,536.3L292.9,525.1M288.5,525.9L292.9,525.1L292.3,529.6M282.1,519.4L297.5,517.0M293.4,514.9L297.5,517.0L294.3,520.1M282.1,502.4L297.3,499.0M293.1,497.2L297.3,499.0L294.3,502.4M282.1,485.5L296.3,479.2M291.9,478.3L296.3,479.2L294.1,483.1M282.1,468.5L294.5,459.2M290.0,459.3L294.5,459.2L293.2,463.5M282.1,451.5L293.5,440.9M289.0,441.5L293.5,440.9L292.6,445.4M282.1,434.5L293.1,423.5M288.7,424.2L293.1,423.5L292.4,427.9M282.1,417.4L292.9,406.2M288.5,407.0L292.9,406.2L292.3,410.7M282.1,400.2L294.0,390.3M289.5,390.6L294.0,390.3L292.9,394.6M282.1,383.0L294.7,373.9M290.2,373.9L294.7,373.9L293.3,378.2M282.1,296.1L273.3,283.4M273.2,287.9L273.3,283.4L277.5,284.9M282.1,278.5L280.8,263.0M278.5,266.9L280.8,263.0L283.8,266.4M282.1,260.8L281.6,245.3M279.1,249.0L281.6,245.3L284.4,248.8M282.1,225.0L284.2,209.7M281.1,212.9L284.2,209.7L286.4,213.6M282.1,207.0L284.7,191.7M281.5,194.8L284.7,191.7L286.7,195.7M299.1,536.3L314.4,534.3M310.5,532.2L314.4,534.3L311.1,537.4M299.1,519.4L312.7,526.7M310.8,522.6L312.7,526.7L308.3,527.3M299.1,502.4L314.4,504.3M311.1,501.3L314.4,504.3L310.5,506.5M299.1,485.5L314.3,482.8M310.3,480.8L314.3,482.8L311.2,486.0M299.1,468.5L312.7,461.2M308.3,460.6L312.7,461.2L310.8,465.3M299.1,451.5L311.1,441.8M306.6,442.0L311.1,441.8L309.9,446.1M299.1,434.5L311.1,424.7M306.6,424.9L311.1,424.7L309.9,429.1M299.1,417.4L311.3,407.8M306.8,408.0L311.3,407.8L310.0,412.2M299.1,400.2L312.0,391.8M307.6,391.6L312.0,391.8L310.4,396.0M299.1,383.0L313.1,376.5M308.7,375.6L313.1,376.5L310.9,380.4M299.1,365.8L309.0,353.9M304.6,355.0L309.0,353.9L308.7,358.4M299.1,348.5L307.3,335.3M303.1,337.0L307.3,335.3L307.6,339.8M299.1,331.1L304.4,316.5M300.6,319.1L304.4,316.5L305.6,320.9M299.1,313.7L301.7,298.4M298.5,301.5L301.7,298.4L303.7,302.4M299.1,296.1L297.7,280.7M295.4,284.5L297.7,280.7L300.7,284.1M299.1,278.5L300.4,263.0M297.4,266.4L300.4,263.0L302.7,266.9M299.1,260.8L300.1,245.3M297.2,248.8L300.1,245.3L302.5,249.1M315.9,536.3L327.0,547.2M326.3,542.7L327.0,547.2L322.5,546.5M315.9,519.4L323.0,533.2M323.7,528.7L323.0,533.2L319.0,531.1M315.9,502.4L327.3,513.0M326.4,508.6L327.3,513.0L322.8,512.5M315.9,485.5L331.2,488.2M328.1,484.9L331.2,488.2L327.2,490.2M315.9,468.5L330.3,462.7M326.0,461.6L330.3,462.7L327.9,466.5M315.9,451.5L328.5,442.4M324.0,442.4L328.5,442.4L327.1,446.7M315.9,434.5L328.5,425.3M324.0,425.3L328.5,425.3L327.1,429.6M315.9,417.4L328.6,408.5M324.1,408.4L328.6,408.5L327.2,412.7M315.9,400.2L329.6,393.0M325.2,392.3L329.6,393.0L327.7,397.0M315.9,383.0L328.9,374.6M324.5,374.4L328.9,374.6L327.3,378.8M315.9,365.8L327.5,355.4M323.0,355.9L327.5,355.4L326.5,359.8M315.9,348.5L325.1,336.0M320.8,337.3L325.1,336.0L325.1,340.5M315.9,331.1L322.3,316.9M318.4,319.2L322.3,316.9L323.2,321.4M315.9,313.7L321.5,299.2M317.7,301.6L321.5,299.2L322.7,303.5M315.9,296.1L317.8,280.7M314.8,284.0L317.8,280.7L320.0,284.7M315.9,278.5L317.8,263.1M314.8,266.4L317.8,263.1L320.0,267.0M315.9,260.8L318.1,245.4M315.0,248.7L318.1,245.4L320.2,249.4M315.9,242.9L318.6,227.7M315.4,230.8L318.6,227.7L320.6,231.7M315.9,225.0L319.2,209.9M315.8,212.9L319.2,209.9L321.0,214.0M315.9,207.0L320.0,192.0M316.5,194.8L320.0,192.0L321.6,196.2M332.9,502.4L341.3,515.4M341.5,511.0L341.3,515.4L337.1,513.8M332.9,485.5L344.2,496.1M343.3,491.6L344.2,496.1L339.7,495.5M332.9,468.5L348.2,470.7M345.0,467.5L348.2,470.7L344.2,472.8M332.9,451.5L347.5,446.5M343.2,445.1L347.5,446.5L344.9,450.1M332.9,434.5L346.7,427.4M342.2,426.7L346.7,427.4L344.6,431.4M332.9,417.4L346.4,409.9M341.9,409.3L346.4,409.9L344.5,413.9M332.9,400.2L347.0,393.9M342.6,393.0L347.0,393.9L344.8,397.8M332.9,383.0L346.0,374.8M341.5,374.5L346.0,374.8L344.3,379.0M332.9,365.8L345.1,356.3M340.6,356.4L345.1,356.3L343.8,360.6M332.9,348.5L342.8,336.6M338.4,337.7L342.8,336.6L342.5,341.1M332.9,331.1L340.1,317.4M336.1,319.4L340.1,317.4L340.8,321.9M332.9,313.7L339.4,299.6M335.5,301.8L339.4,299.6L340.3,304.0M332.9,296.1L337.4,281.3M333.8,284.0L337.4,281.3L338.8,285.5M332.9,278.5L336.9,263.5M333.4,266.3L336.9,263.5L338.5,267.7M332.9,260.8L336.7,245.8M333.3,248.6L336.7,245.8L338.4,249.9M332.9,242.9L336.7,227.9M333.3,230.8L336.7,227.9L338.4,232.1M332.9,225.0L337.0,210.1M333.4,212.9L337.0,210.1L338.5,214.3M332.9,207.0L337.2,192.1M333.7,194.9L337.2,192.1L338.7,196.3M349.8,502.4L359.0,514.9M359.0,510.4L359.0,514.9L354.7,513.5M349.8,485.5L356.3,499.5M357.2,495.1L356.3,499.5L352.4,497.4M349.8,468.5L361.4,478.7M360.4,474.3L361.4,478.7L357.0,478.3M349.8,451.5L365.2,453.1M361.8,450.1L365.2,453.1L361.3,455.4M349.8,434.5L365.0,431.8M361.0,429.8L365.0,431.8L361.9,435.0M349.8,417.4L364.3,412.1M360.0,410.8L364.3,412.1L361.8,415.8M349.8,400.2L363.9,393.9M359.5,393.0L363.9,393.9L361.7,397.8M349.8,383.0L363.6,376.0M359.1,375.3L363.6,376.0L361.5,380.0M349.8,365.8L362.7,357.4M358.3,357.1L362.7,357.4L361.1,361.6M349.8,348.5L360.3,337.2M355.9,338.0L360.3,337.2L359.8,341.6M349.8,331.1L357.5,317.7M353.4,319.5L357.5,317.7L358.0,322.2M349.8,313.7L357.0,300.0M353.0,301.9L357.0,300.0L357.7,304.4M349.8,296.1L354.5,281.4M350.9,284.0L354.5,281.4L355.9,285.7M349.8,278.5L354.5,263.7M350.9,266.4L354.5,263.7L355.9,268.0M349.8,260.8L355.1,246.2M351.3,248.7L355.1,246.2L356.3,250.5M349.8,242.9L354.5,228.2M350.9,230.9L354.5,228.2L355.9,232.5M349.8,225.0L354.5,210.3M350.9,212.9L354.5,210.3L355.9,214.6M349.8,207.0L354.5,192.2M350.9,194.9L354.5,192.2L355.9,196.5M349.8,188.8L355.1,174.3M351.4,176.8L355.1,174.3L356.3,178.6M366.6,485.5L375.8,498.0M375.8,493.5L375.8,498.0L371.5,496.6M366.6,468.5L374.2,482.1M374.7,477.6L374.2,482.1L370.1,480.2M366.6,451.5L380.1,459.3M378.2,455.1L380.1,459.3L375.6,459.7M366.6,434.5L382.1,435.8M378.7,432.9L382.1,435.8L378.2,438.1M366.6,417.4L382.0,415.2M378.0,413.1L382.0,415.2L378.8,418.3M366.6,400.2L381.6,396.2M377.4,394.6L381.6,396.2L378.8,399.7M366.6,383.0L381.2,377.7M376.9,376.5L381.2,377.7L378.7,381.5M366.6,365.8L380.3,358.5M375.9,357.9L380.3,358.5L378.4,362.6M366.6,348.5L378.5,338.5M374.0,338.8L378.5,338.5L377.4,342.9M366.6,331.1L375.5,318.4M371.3,319.9L375.5,318.4L375.6,322.9M366.6,313.7L375.5,301.0M371.3,302.4L375.5,301.0L375.6,305.5M366.6,296.1L374.4,282.7M370.3,284.5L374.4,282.7L374.9,287.2M366.6,278.5L373.8,264.8M369.8,266.8L373.8,264.8L374.5,269.2M366.6,260.8L373.3,246.8M369.3,248.9L373.3,246.8L374.1,251.2M366.6,242.9L373.0,228.8M369.1,231.0L373.0,228.8L373.9,233.2M366.6,225.0L372.8,210.8M368.9,213.1L372.8,210.8L373.8,215.2M366.6,207.0L372.7,192.7M368.8,195.0L372.7,192.7L373.7,197.1M366.6,188.8L372.5,174.4M368.6,176.8L372.5,174.4L373.5,178.8M383.5,468.5L394.9,479.0M394.1,474.6L394.9,479.0L390.5,478.5M383.5,451.5L395.1,461.9M394.1,457.5L395.1,461.9L390.6,461.4M383.5,434.5L398.4,439.0M395.7,435.4L398.4,439.0L394.1,440.5M383.5,417.4L399.0,417.4M395.4,414.7L399.0,417.4L395.4,420.0M383.5,400.2L398.8,397.5M394.8,395.6L398.8,397.5L395.7,400.8M383.5,383.0L398.6,379.3M394.4,377.6L398.6,379.3L395.7,382.7M383.5,365.8L397.7,359.5M393.3,358.6L397.7,359.5L395.5,363.4M383.5,348.5L396.4,339.8M391.9,339.7L396.4,339.8L394.9,344.1M383.5,331.1L393.5,319.2M389.1,320.3L393.5,319.2L393.2,323.7M383.5,313.7L394.1,302.3M389.7,303.2L394.1,302.3L393.6,306.8M383.5,296.1L393.5,284.2M389.1,285.3L393.5,284.2L393.2,288.7M383.5,278.5L392.2,265.6M388.0,267.2L392.2,265.6L392.4,270.1M383.5,260.8L391.3,247.3M387.2,249.2L391.3,247.3L391.8,251.8M383.5,242.9L391.3,229.5M387.2,231.4L391.3,229.5L391.8,234.0M383.5,225.0L390.8,211.3M386.8,213.3L390.8,211.3L391.5,215.8M383.5,207.0L390.8,193.3M386.8,195.3L390.8,193.3L391.5,197.7M383.5,188.8L390.4,174.9M386.5,177.0L390.4,174.9L391.2,179.4M400.4,468.5L414.7,474.7M412.4,470.8L414.7,474.7L410.3,475.7M400.4,451.5L414.9,457.2M412.5,453.4L414.9,457.2L410.5,458.3M400.4,434.5L415.7,437.2M412.6,433.9L415.7,437.2L411.7,439.1M400.4,417.4L415.9,417.4M412.3,414.7L415.9,417.4L412.3,420.0M400.4,400.2L415.9,398.6M412.0,396.4L415.9,398.6L412.5,401.6M400.4,383.0L415.8,380.9M411.8,378.8L415.8,380.9L412.6,384.0M400.4,365.8L414.9,360.2M410.6,359.1L414.9,360.2L412.5,364.0M400.4,348.5L413.9,340.7M409.4,340.3L413.9,340.7L412.0,344.9M400.4,331.1L412.7,321.6M408.2,321.7L412.7,321.6L411.4,325.9M400.4,313.7L411.0,302.3M406.6,303.2L411.0,302.3L410.5,306.8M400.4,296.1L410.0,283.9M405.7,285.1L410.0,283.9L409.8,288.4M400.4,278.5L408.9,265.5M404.7,267.1L408.9,265.5L409.1,270.0M400.4,260.8L408.2,247.3M404.1,249.2L408.2,247.3L408.7,251.8M400.4,242.9L408.2,229.5M404.1,231.3L408.2,229.5L408.7,234.0M400.4,225.0L407.9,211.4M403.9,213.4L407.9,211.4L408.5,215.9M400.4,207.0L407.7,193.3M403.7,195.3L407.7,193.3L408.3,197.7M400.4,188.8L407.7,175.1M403.7,177.1L407.7,175.1L408.4,179.6M417.3,451.5L431.1,458.7M429.1,454.7L431.1,458.7L426.6,459.4M417.3,417.4L432.8,417.2M429.2,414.6L432.8,417.2L429.2,419.8M417.3,400.2L432.8,400.2M429.2,397.6L432.8,400.2L429.2,402.9M417.3,383.0L432.8,384.1M429.4,381.2L432.8,384.1L429.0,386.5M417.3,365.8L432.8,364.7M429.0,362.3L432.8,364.7L429.4,367.6M417.3,348.5L431.2,341.5M426.7,340.7L431.2,341.5L429.1,345.5M417.3,331.1L430.2,322.4M425.7,322.3L430.2,322.4L428.7,326.7M417.3,313.7L427.9,302.3M423.5,303.2L427.9,302.3L427.4,306.8M417.3,296.1L426.9,283.9M422.6,285.1L426.9,283.9L426.7,288.4M417.3,278.5L425.3,265.2M421.2,267.0L425.3,265.2L425.7,269.7M417.3,260.8L425.1,247.3M421.0,249.2L425.1,247.3L425.6,251.8M417.3,242.9L425.1,229.5M421.0,231.4L425.1,229.5L425.6,234.0M417.3,225.0L425.1,211.6M421.0,213.4L425.1,211.6L425.6,216.1M417.3,207.0L424.6,193.3M420.6,195.3L424.6,193.3L425.3,197.7M417.3,188.8L424.5,175.0M420.5,177.1L424.5,175.0L425.2,179.5M417.3,170.5L424.1,156.6M420.2,158.7L424.1,156.6L424.9,161.0M434.2,570.1L439.9,555.7M436.1,558.1L439.9,555.7L441.1,560.0M434.2,536.3L432.5,520.9M430.3,524.8L432.5,520.9L435.5,524.2M434.2,519.4L431.4,504.1M429.5,508.2L431.4,504.1L434.7,507.2M434.2,502.4L431.5,487.2M429.5,491.2L431.5,487.2L434.7,490.3M434.2,468.5L448.0,461.4M443.6,460.8L448.0,461.4L446.0,465.5M434.2,451.5L443.8,463.7M443.6,459.2L443.8,463.7L439.5,462.5M434.2,434.5L449.7,433.6M446.0,431.2L449.7,433.6L446.2,436.5M434.2,400.2L449.7,399.3M445.9,396.9L449.7,399.3L446.2,402.2M434.2,383.0L449.8,383.0M446.1,380.4L449.8,383.0L446.1,385.7M434.2,365.8L449.7,365.0M446.0,362.5L449.7,365.0L446.2,367.8M434.2,348.5L448.9,343.4M444.6,342.1L448.9,343.4L446.3,347.1M434.2,331.1L447.7,323.4M443.2,322.9L447.7,323.4L445.8,327.5M434.2,313.7L445.9,303.5M441.5,303.9L445.9,303.5L444.9,307.9M434.2,296.1L444.8,284.8M440.4,285.6L444.8,284.8L444.3,289.2M434.2,278.5L442.9,265.6M438.7,267.2L442.9,265.6L443.1,270.1M434.2,260.8L442.0,247.3M437.9,249.2L442.0,247.3L442.5,251.8M434.2,242.9L442.1,229.6M437.9,231.4L442.1,229.6L442.5,234.0M434.2,225.0L441.9,211.5M437.8,213.4L441.9,211.5L442.4,216.0M434.2,207.0L441.5,193.3M437.5,195.3L441.5,193.3L442.1,197.7M434.2,188.8L441.5,175.1M437.5,177.1L441.5,175.1L442.2,179.6M434.2,170.5L441.3,156.7M437.3,158.8L441.3,156.7L442.0,161.2M434.2,152.1L441.6,138.4M437.5,140.4L441.6,138.4L442.2,142.9M451.1,570.1L457.9,556.2M454.0,558.3L457.9,556.2L458.7,560.6M451.1,553.2L453.8,537.9M450.6,541.1L453.8,537.9L455.8,542.0M451.1,536.3L447.4,521.3M445.7,525.4L447.4,521.3L450.8,524.1M451.1,519.4L446.9,504.5M445.3,508.7L446.9,504.5L450.4,507.2M451.1,502.4L446.9,487.5M445.3,491.8L446.9,487.5L450.4,490.3M451.1,485.5L447.1,470.5M445.5,474.7L447.1,470.5L450.6,473.4M451.1,468.5L448.5,453.2M446.5,457.3L448.5,453.2L451.7,456.4M451.1,451.5L462.5,462.1M461.6,457.7L462.5,462.1L458.0,461.5M451.1,434.5L466.6,433.1M462.7,430.8L466.6,433.1L463.2,436.1M451.1,417.4L466.0,412.8M461.7,411.4L466.0,412.8L463.3,416.4M451.1,383.0L466.6,381.4M462.7,379.2L466.6,381.4L463.2,384.4M451.1,365.8L466.6,364.4M462.7,362.1L466.6,364.4L463.2,367.4M451.1,348.5L466.6,346.9M462.7,344.6L466.6,346.9L463.2,349.9M451.1,331.1L466.3,327.9M462.2,326.1L466.3,327.9L463.3,331.2M451.1,313.7L465.3,307.3M460.9,306.4L465.3,307.3L463.1,311.2M451.1,296.1L462.5,285.5M458.0,286.1L462.5,285.5L461.6,290.0M451.1,278.5L461.7,267.2M457.3,268.0L461.7,267.2L461.2,271.6M451.1,260.8L459.4,247.6M455.2,249.3L459.4,247.6L459.7,252.1M451.1,242.9L458.9,229.5M454.8,231.4L458.9,229.5L459.4,234.0M451.1,225.0L458.9,211.6M454.8,213.4L458.9,211.6L459.4,216.1M451.1,207.0L458.4,193.3M454.4,195.3L458.4,193.3L459.1,197.7M451.1,188.8L457.6,174.7M453.7,176.9L457.6,174.7L458.5,179.1M451.1,170.5L458.4,156.8M454.4,158.8L458.4,156.8L459.1,161.3M451.1,152.1L458.9,138.7M454.8,140.5L458.9,138.7L459.4,143.1M451.1,133.5L459.1,120.2M455.0,122.0L459.1,120.2L459.5,124.7M468.1,553.2L475.8,539.8M471.7,541.6L475.8,539.8L476.3,544.3M468.1,536.3L468.9,520.8M466.0,524.3L468.9,520.8L471.3,524.6M468.1,519.4L468.9,503.9M466.0,507.4L468.9,503.9L471.3,507.7M468.1,502.4L468.1,486.9M465.4,490.6L468.1,486.9L470.7,490.6M468.1,485.5L468.1,470.0M465.4,473.6L468.1,470.0L470.7,473.6M468.1,468.5L477.1,455.9M472.8,457.3L477.1,455.9L477.1,460.4M468.1,451.5L483.3,454.2M480.2,451.0L483.3,454.2L479.3,456.2M468.1,434.5L483.4,432.6M479.5,430.4L483.4,432.6L480.1,435.6M468.1,417.4L482.9,413.1M478.7,411.6L482.9,413.1L480.2,416.6M468.1,400.2L483.0,396.2M478.8,394.6L483.0,396.2L480.2,399.7M468.1,383.0L483.1,379.2M478.9,377.5L483.1,379.2L480.2,382.7M468.1,365.8L483.3,363.2M479.3,361.2L483.3,363.2L480.2,366.4M468.1,348.5L483.3,345.5M479.2,343.6L483.3,345.5L480.2,348.8M468.1,331.1L482.8,326.4M478.5,325.0L482.8,326.4L480.2,330.0M468.1,313.7L481.6,306.0M477.1,305.5L481.6,306.0L479.7,310.1M468.1,278.5L477.7,266.4M473.4,267.6L477.7,266.4L477.5,270.9M468.1,260.8L476.8,248.0M472.6,249.5L476.8,248.0L476.9,252.5M468.1,242.9L478.6,231.6M474.2,232.5L478.6,231.6L478.1,236.1M468.1,225.0L476.5,212.0M472.3,213.6L476.5,212.0L476.7,216.5M468.1,207.0L474.4,192.8M470.5,195.1L474.4,192.8L475.3,197.2M468.1,188.8L472.1,173.8M468.6,176.7L472.1,173.8L473.7,178.0M468.1,170.5L473.6,156.0M469.8,158.5L473.6,156.0L474.8,160.4M468.1,152.1L475.6,138.6M471.5,140.5L475.6,138.6L476.2,143.0M468.1,133.5L476.9,120.8M472.7,122.3L476.9,120.8L477.0,125.3M468.1,114.8L474.9,100.9M471.0,103.0L474.9,100.9L475.7,105.3M484.9,570.1L490.0,555.4M486.3,558.0L490.0,555.4L491.3,559.7M484.9,536.3L496.8,526.3M492.3,526.6L496.8,526.3L495.7,530.7M484.9,519.4L494.1,506.8M489.8,508.2L494.1,506.8L494.1,511.3M484.9,502.4L491.3,488.3M487.4,490.5L491.3,488.3L492.2,492.7M484.9,485.5L490.3,470.9M486.5,473.4L490.3,470.9L491.5,475.3M484.9,468.5L494.9,456.6M490.5,457.7L494.9,456.6L494.6,461.1M484.9,451.5L500.4,451.5M496.8,448.9L500.4,451.5L496.8,454.1M484.9,434.5L500.3,432.6M496.4,430.4L500.3,432.6L497.0,435.6M484.9,417.4L499.5,412.1M495.2,410.8L499.5,412.1L497.0,415.8M484.9,400.2L499.7,395.4M495.4,394.1L499.7,395.4L497.0,399.1M484.9,383.0L499.9,379.0M495.7,377.4L499.9,379.0L497.1,382.5M484.9,365.8L499.8,361.4M495.6,359.9L499.8,361.4L497.1,365.0M484.9,242.9L489.0,228.0M485.5,230.8L489.0,228.0L490.6,232.2M484.9,225.0L494.1,212.5M489.8,213.9L494.1,212.5L494.1,217.0M484.9,207.0L489.5,192.2M485.9,194.9L489.5,192.2L490.9,196.4M484.9,188.8L488.2,173.7M484.8,176.7L488.2,173.7L490.0,177.8M484.9,133.5L491.6,119.5M487.6,121.7L491.6,119.5L492.4,123.9M484.9,114.8L492.2,101.1M488.2,103.1L492.2,101.1L492.9,105.6M484.9,95.9L487.6,80.6M484.4,83.8L487.6,80.6L489.6,84.7M484.9,76.9L483.7,61.4M481.4,65.2L483.7,61.4L486.6,64.8M501.8,570.1L499.7,554.7M497.6,558.7L499.7,554.7L502.9,558.0M501.8,536.3L488.4,528.5M490.3,532.7L488.4,528.5L492.9,528.1M501.8,519.4L501.8,503.9M499.2,507.5L501.8,503.9L504.5,507.5M501.8,502.4L510.3,489.4M506.1,491.1L510.3,489.4L510.5,493.9M501.8,485.5L509.6,472.1M505.5,473.9L509.6,472.1L510.1,476.5M501.8,468.5L513.7,458.6M509.2,458.9L513.7,458.6L512.6,462.9M501.8,434.5L516.4,429.2M512.1,427.9L516.4,429.2L513.9,432.9M501.8,417.4L515.9,410.8M511.5,410.0L515.9,410.8L513.7,414.8M501.8,313.7L489.4,304.4M490.7,308.7L489.4,304.4L493.9,304.5M501.8,296.1L488.4,288.4M490.2,292.5L488.4,288.4L492.9,288.0M501.8,242.9L494.1,229.5M493.6,234.0L494.1,229.5L498.2,231.4M501.8,225.0L503.2,209.6M500.2,213.0L503.2,209.6L505.5,213.4M501.8,207.0L503.7,191.6M500.7,194.9L503.7,191.6L505.9,195.5M501.8,188.8L503.7,173.4M500.7,176.7L503.7,173.4L505.9,177.4M501.8,170.5L504.1,155.2M500.9,158.4L504.1,155.2L506.2,159.2M501.8,152.1L505.0,136.9M501.6,139.9L505.0,136.9L506.8,141.0M501.8,133.5L504.5,118.2M501.3,121.4L504.5,118.2L506.5,122.3M501.8,114.8L505.9,99.8M502.4,102.7L505.9,99.8L507.5,104.0M501.8,95.9L494.6,82.2M493.9,86.7L494.6,82.2L498.6,84.2M501.8,76.9L499.2,61.6M497.2,65.6L499.2,61.6L502.4,64.7M501.8,57.6L496.5,43.1M495.3,47.4L496.5,43.1L500.3,45.6M518.8,570.1L511.2,556.5M510.7,561.0L511.2,556.5L515.3,558.4M518.8,553.2L503.3,553.8M507.0,556.3L503.3,553.8L506.8,551.0M518.8,536.3L504.2,541.6M508.5,542.8L504.2,541.6L506.7,537.9M518.8,519.4L508.2,508.0M508.7,512.5L508.2,508.0L512.6,508.9M518.8,502.4L525.8,488.6M521.8,490.7L525.8,488.6L526.5,493.1M518.8,485.5L529.1,474.0M524.7,474.9L529.1,474.0L528.7,478.4M518.8,468.5L531.3,459.4M526.8,459.4L531.3,459.4L529.9,463.7M518.8,451.5L530.4,441.3M526.0,441.7L530.4,441.3L529.4,445.7M518.8,417.4L532.7,410.6M528.3,409.8L532.7,410.6L530.6,414.6M518.8,313.7L504.4,307.8M506.8,311.6L504.4,307.8L508.8,306.7M518.8,296.1L504.4,290.3M506.8,294.1L504.4,290.3L508.7,289.2M518.8,278.5L505.3,270.7M507.2,274.9L505.3,270.7L509.8,270.3M518.8,260.8L506.2,251.7M507.6,255.9L506.2,251.7L510.7,251.7M518.8,242.9L507.2,232.6M508.2,237.0L507.2,232.6L511.7,233.0M518.8,225.0L512.9,210.6M511.9,215.0L512.9,210.6L516.8,213.0M518.8,207.0L516.9,191.6M514.7,195.5L516.9,191.6L519.9,194.9M518.8,188.8L519.3,173.3M516.5,176.9L519.3,173.3L521.8,177.1M518.8,170.5L521.2,155.2M518.0,158.4L521.2,155.2L523.2,159.2M518.8,152.1L522.8,137.1M519.3,140.0L522.8,137.1L524.4,141.3M518.8,133.5L519.8,118.1M516.9,121.5L519.8,118.1L522.2,121.9M518.8,114.8L519.3,99.3M516.5,102.8L519.3,99.3L521.8,103.0M518.8,95.9L512.9,81.5M511.9,85.9L512.9,81.5L516.8,83.9M518.8,76.9L513.2,62.4M512.0,66.7L513.2,62.4L517.0,64.8M518.8,57.6L514.7,42.7M513.1,46.9L514.7,42.7L518.2,45.5M518.8,38.2L513.3,23.7M512.1,28.0L513.3,23.7L517.1,26.2M535.6,570.1L541.9,555.9M538.0,558.2L541.9,555.9L542.8,560.3M535.6,553.2L521.8,546.3M523.8,550.3L521.8,546.3L526.2,545.6M535.6,536.3L521.6,542.8M526.0,543.7L521.6,542.8L523.8,538.9M535.6,519.4L520.5,522.9M524.7,524.6L520.5,522.9L523.5,519.5M535.6,502.4L546.2,491.1M541.8,492.0L546.2,491.1L545.7,495.6M535.6,485.5L547.2,475.1M542.7,475.6L547.2,475.1L546.2,479.5M535.6,468.5L547.5,458.6M543.0,458.9L547.5,458.6L546.4,462.9M535.6,451.5L547.2,441.2M542.8,441.7L547.2,441.2L546.3,445.6M535.6,417.4L545.3,405.3M541.0,406.5L545.3,405.3L545.1,409.8M535.6,313.7L520.8,309.1M523.5,312.7L520.8,309.1L525.1,307.7M535.6,296.1L521.8,289.1M523.9,293.1L521.8,289.1L526.3,288.4M535.6,278.5L522.7,270.0M524.3,274.2L522.7,270.0L527.1,269.8M535.6,260.8L523.6,251.0M524.8,255.4L523.6,251.0L528.1,251.3M535.6,242.9L526.3,230.6M526.4,235.1L526.3,230.6L530.6,231.9M535.6,225.0L529.3,210.9M528.4,215.3L529.3,210.9L533.2,213.1M535.6,207.0L533.8,191.6M531.6,195.5L533.8,191.6L536.8,194.9M535.6,188.8L536.5,173.3M533.6,176.8L536.5,173.3L538.9,177.1M535.6,170.5L538.3,155.3M535.1,158.4L538.3,155.3L540.3,159.3M535.6,152.1L541.0,137.5M537.2,140.0L541.0,137.5L542.2,141.9M535.6,133.5L542.4,119.6M538.5,121.7L542.4,119.6L543.2,124.0M535.6,114.8L538.6,99.6M535.3,102.6L538.6,99.6L540.5,103.7M535.6,95.9L529.1,81.9M528.2,86.3L529.1,81.9L533.0,84.0M535.6,76.9L525.9,64.8M526.1,69.3L525.9,64.8L530.2,66.0M535.6,57.6L525.3,46.1M525.7,50.6L525.3,46.1L529.7,47.0M535.6,38.2L526.6,25.6M526.6,30.1L526.6,25.6L530.9,27.0M552.5,570.1L561.3,557.3M557.1,558.8L561.3,557.3L561.4,561.8M552.5,553.2L563.5,542.2M559.1,542.9L563.5,542.2L562.8,546.7M552.5,536.3L542.6,548.2M547.0,547.1L542.6,548.2L542.9,543.7M552.5,519.4L545.8,533.3M549.7,531.2L545.8,533.3L545.0,528.9M552.5,502.4L565.8,494.5M561.4,494.1L565.8,494.5L564.1,498.6M552.5,485.5L564.4,475.5M559.9,475.8L564.4,475.5L563.3,479.9M552.5,417.4L541.7,406.3M542.4,410.7L541.7,406.3L546.1,407.0M552.5,313.7L537.7,309.4M540.4,312.9L537.7,309.4L541.9,307.8M552.5,296.1L538.5,289.6M540.7,293.5L538.5,289.6L542.9,288.7M552.5,278.5L539.1,270.7M541.0,274.9L539.1,270.7L543.6,270.3M552.5,260.8L540.3,251.2M541.6,255.6L540.3,251.2L544.8,251.4M552.5,242.9L541.8,231.8M542.4,236.3L541.8,231.8L546.2,232.6M552.5,225.0L546.0,211.0M545.1,215.4L546.0,211.0L549.9,213.2M552.5,207.0L550.4,191.6M548.3,195.6L550.4,191.6L553.5,194.9M552.5,188.8L551.7,173.3M549.3,177.1L551.7,173.3L554.6,176.8M552.5,170.5L553.6,155.1M550.7,158.5L553.6,155.1L556.0,158.9M552.5,152.1L555.2,136.8M552.0,140.0L555.2,136.8L557.2,140.9M552.5,133.5L559.3,119.6M555.4,121.7L559.3,119.6L560.1,124.0M552.5,114.8L553.9,99.4M550.9,102.7L553.9,99.4L556.2,103.2M552.5,95.9L549.9,80.6M547.9,84.7L549.9,80.6L553.1,83.8M552.5,76.9L543.0,64.6M543.2,69.1L543.0,64.6L547.3,65.9M552.5,57.6L540.9,47.5M541.9,51.8L540.9,47.5L545.3,47.8M552.5,38.2L542.3,26.6M542.7,31.1L542.3,26.6L546.7,27.6M569.5,570.1L575.5,555.8M571.6,558.1L575.5,555.8L576.5,560.2M569.5,553.2L582.0,544.1M577.5,544.1L582.0,544.1L580.6,548.4M569.5,536.3L577.0,522.7M572.9,524.6L577.0,522.7L577.5,527.2M569.5,519.4L571.3,504.0M568.3,507.3L571.3,504.0L573.5,507.9M569.5,502.4L581.1,492.3M576.7,492.7L581.1,492.3L580.1,496.7M569.5,485.5L574.0,470.7M570.4,473.4L574.0,470.7L575.4,474.9M569.5,468.5L568.0,453.1M565.7,457.0L568.0,453.1L571.0,456.5M569.5,451.5L557.1,442.1M558.4,446.4L557.1,442.1L561.6,442.2M569.5,383.0L554.4,379.2M557.3,382.6L554.4,379.2L558.6,377.5M569.5,365.8L554.5,361.8M557.3,365.3L554.5,361.8L558.7,360.2M569.5,348.5L554.6,344.0M557.3,347.6L554.6,344.0L558.9,342.5M569.5,331.1L554.6,326.8M557.3,330.4L554.6,326.8L558.8,325.3M569.5,313.7L554.5,309.6M557.3,313.1L554.5,309.6L558.7,308.0M569.5,296.1L555.3,289.8M557.5,293.7L555.3,289.8L559.7,288.9M569.5,278.5L556.2,270.5M557.9,274.6L556.2,270.5L560.6,270.1M569.5,260.8L556.9,251.7M558.3,255.9L556.9,251.7L561.4,251.7M569.5,242.9L557.9,232.6M558.9,237.0L557.9,232.6L562.4,233.0M569.5,225.0L562.4,211.2M561.7,215.7L562.4,211.2L566.4,213.3M569.5,207.0L564.7,192.2M563.3,196.5L564.7,192.2L568.3,194.9M569.5,188.8L568.1,173.4M565.8,177.2L568.1,173.4L571.1,176.8M569.5,170.5L569.2,155.0M566.6,158.7L569.2,155.0L571.9,158.6M569.5,152.1L570.0,136.6M567.2,140.1L570.0,136.6L572.5,140.3M569.5,133.5L571.3,118.1M568.3,121.4L571.3,118.1L573.5,122.1M569.5,114.8L571.3,99.4M568.3,102.7L571.3,99.4L573.5,103.3M569.5,95.9L569.5,80.4M566.8,84.0L569.5,80.4L572.1,84.0M569.5,76.9L563.6,62.5M562.6,66.9L563.6,62.5L567.5,64.9M569.5,57.6L559.3,45.9M559.7,50.4L559.3,45.9L563.7,46.9M569.5,38.2L560.2,25.8M560.2,30.3L560.2,25.8L564.5,27.1M586.3,570.1L594.1,556.7M590.0,558.5L594.1,556.7L594.6,561.2M586.3,553.2L598.2,543.2M593.7,543.5L598.2,543.2L597.1,547.6M586.3,536.3L598.6,526.8M594.1,526.9L598.6,526.8L597.3,531.1M586.3,519.4L594.8,506.4M590.6,508.0L594.8,506.4L595.0,510.9M586.3,502.4L586.9,487.0M584.1,490.5L586.9,487.0L589.4,490.7M586.3,485.5L595.0,472.6M590.8,474.2L595.0,472.6L595.2,477.1M586.3,468.5L574.8,458.1M575.8,462.5L574.8,458.1L579.3,458.6M586.3,451.5L572.0,445.7M574.4,449.5L572.0,445.7L576.3,444.6M586.3,434.5L571.8,429.2M574.3,432.9L571.8,429.2L576.1,427.9M586.3,417.4L572.1,411.3M574.4,415.2L572.1,411.3L576.5,410.3M586.3,400.2L571.4,396.2M574.2,399.7L571.4,396.2L575.6,394.6M586.3,383.0L571.2,379.8M574.2,383.2L571.2,379.8L575.3,378.0M586.3,365.8L571.1,363.1M574.2,366.3L571.1,363.1L575.1,361.1M586.3,348.5L571.4,344.5M574.2,348.0L571.4,344.5L575.6,342.9M586.3,331.1L571.2,327.6M574.2,331.0L571.2,327.6L575.4,325.9M586.3,313.7L571.3,309.9M574.2,313.4L571.3,309.9L575.5,308.2M586.3,296.1L571.8,290.8M574.3,294.5L571.8,290.8L576.1,289.6M586.3,278.5L572.5,271.5M574.6,275.5L572.5,271.5L577.0,270.7M586.3,260.8L573.1,252.8M574.8,256.9L573.1,252.8L577.5,252.4M586.3,242.9L574.0,233.6M575.3,237.9L574.0,233.6L578.5,233.7M586.3,225.0L577.0,212.6M577.1,217.1L577.0,212.6L581.3,214.0M586.3,207.0L580.5,192.6M579.5,197.0L580.5,192.6L584.4,195.0M586.3,188.8L583.9,173.5M581.9,177.5L583.9,173.5L587.1,176.7M586.3,170.5L585.0,155.1M582.7,158.9L585.0,155.1L588.0,158.5M586.3,152.1L586.3,136.6M583.7,140.2L586.3,136.6L589.0,140.2M586.3,133.5L587.7,118.1M584.7,121.5L587.7,118.1L590.0,121.9M586.3,114.8L589.0,99.5M585.8,102.7L589.0,99.5L591.0,103.6M586.3,95.9L591.7,81.3M587.9,83.9L591.7,81.3L592.9,85.7M586.3,76.9L587.2,61.4M584.3,64.9L587.2,61.4L589.6,65.2M586.3,57.6L577.0,45.2M577.1,49.7L577.0,45.2L581.3,46.6M586.3,38.2L578.2,25.0M577.9,29.5L578.2,25.0L582.4,26.7M603.2,570.1L598.7,555.3M597.2,559.5L598.7,555.3L602.3,558.0M603.2,519.4L616.8,511.9M612.3,511.3L616.8,511.9L614.9,515.9M603.2,502.4L613.0,490.4M608.7,491.6L613.0,490.4L612.8,494.9M603.2,485.5L612.8,473.3M608.5,474.5L612.8,473.3L612.6,477.8M603.2,468.5L602.4,453.0M600.0,456.8L602.4,453.0L605.3,456.5M603.2,451.5L589.0,445.4M591.3,449.3L589.0,445.4L593.4,444.4M603.2,434.5L589.2,427.9M591.4,431.8L589.2,427.9L593.6,427.0M603.2,417.4L589.2,410.8M591.4,414.8L589.2,410.8L593.6,410.0M603.2,400.2L588.7,394.9M591.2,398.7L588.7,394.9L593.0,393.7M603.2,383.0L588.3,379.0M591.1,382.5L588.3,379.0L592.5,377.4M603.2,365.8L588.0,363.1M591.1,366.3L588.0,363.1L592.0,361.1M603.2,348.5L588.3,344.5M591.1,348.0L588.3,344.5L592.5,342.9M603.2,331.1L588.0,328.2M591.1,331.4L588.0,328.2L592.1,326.3M603.2,313.7L588.2,309.9M591.1,313.4L588.2,309.9L592.4,308.2M603.2,296.1L588.4,291.6M591.1,295.2L588.4,291.6L592.7,290.1M603.2,278.5L588.9,272.7M591.3,276.5L588.9,272.7L593.2,271.6M603.2,260.8L588.9,255.0M591.3,258.8L588.9,255.0L593.2,253.9M603.2,242.9L590.1,234.7M591.8,238.9L590.1,234.7L594.6,234.4M603.2,225.0L592.1,214.3M592.9,218.7L592.1,214.3L596.6,214.9M603.2,207.0L595.3,193.7M594.9,198.2L595.3,193.7L599.4,195.4M603.2,188.8L597.4,174.4M596.4,178.8L597.4,174.4L601.3,176.8M603.2,170.5L600.3,155.3M598.4,159.4L600.3,155.3L603.6,158.4M603.2,152.1L602.7,136.6M600.2,140.3L602.7,136.6L605.5,140.1M603.2,133.5L605.1,118.1M602.1,121.4L605.1,118.1L607.3,122.1M603.2,114.8L608.0,100.1M604.4,102.7L608.0,100.1L609.4,104.3M603.2,95.9L609.6,81.7M605.7,84.0L609.6,81.7L610.5,86.2M603.2,76.9L608.6,62.3M604.8,64.8L608.6,62.3L609.8,66.6M603.2,57.6L595.7,44.1M595.2,48.5L595.7,44.1L599.8,46.0M603.2,38.2L596.1,24.4M595.4,28.9L596.1,24.4L600.1,26.5M620.1,570.1L605.2,566.1M608.0,569.6L605.2,566.1L609.4,564.5M620.1,553.2L605.6,547.9M608.1,551.6L605.6,547.9L609.9,546.7M620.1,536.3L608.3,526.3M609.4,530.7L608.3,526.3L612.8,526.6M620.1,519.4L614.3,505.0M613.3,509.4L614.3,505.0L618.2,507.4M620.1,502.4L626.5,488.3M622.6,490.5L626.5,488.3L627.4,492.7M620.1,485.5L626.7,471.4M622.8,473.6L626.7,471.4L627.6,475.9M620.1,468.5L621.0,453.0M618.1,456.5L621.0,453.0L623.4,456.8M620.1,451.5L608.8,440.9M609.7,445.4L608.8,440.9L613.3,441.5M620.1,434.5L606.1,427.9M608.3,431.8L606.1,427.9L610.5,427.0M620.1,417.4L605.6,412.1M608.1,415.8L605.6,412.1L609.9,410.8M620.1,400.2L605.6,394.9M608.1,398.7L605.6,394.9L609.9,393.7M620.1,383.0L605.2,379.0M608.0,382.5L605.2,379.0L609.4,377.4M620.1,365.8L604.9,363.1M608.0,366.3L604.9,363.1L608.9,361.1M620.1,348.5L605.2,344.5M608.0,348.0L605.2,344.5L609.4,342.9M620.1,331.1L604.9,328.2M608.0,331.4L604.9,328.2L609.0,326.3M620.1,313.7L605.0,310.4M608.0,313.8L605.0,310.4L609.1,308.6M620.1,296.1L605.1,292.4M608.0,295.8L605.1,292.4L609.3,290.7M620.1,278.5L605.3,274.0M608.0,277.6L605.3,274.0L609.6,272.5M620.1,260.8L605.4,256.0M608.1,259.6L605.4,256.0L609.7,254.6M620.1,242.9L606.6,235.4M608.5,239.5L606.6,235.4L611.1,234.9M620.1,225.0L607.8,215.7M609.1,220.0L607.8,215.7L612.3,215.8M620.1,207.0L609.8,195.5M610.2,199.9L609.8,195.5L614.2,196.4M620.1,188.8L612.9,175.1M612.2,179.6L612.9,175.1L616.9,177.1M620.1,170.5L615.6,155.7M614.2,160.0L615.6,155.7L619.2,158.4M620.1,152.1L618.8,136.6M616.5,140.5L618.8,136.6L621.8,140.0M620.1,133.5L622.3,118.2M619.2,121.4L622.3,118.2L624.4,122.1M620.1,114.8L627.2,101.0M623.2,103.0L627.2,101.0L627.9,105.4M620.1,95.9L625.7,81.4M621.9,83.9L625.7,81.4L626.9,85.8M620.1,76.9L625.5,62.3M621.7,64.8L625.5,62.3L626.7,66.6M620.1,57.6L610.6,45.4M610.8,49.9L610.6,45.4L614.9,46.7M620.1,38.2L611.6,25.3M611.4,29.8L611.6,25.3L615.8,26.8M637.0,570.1L621.9,566.6M624.9,570.0L621.9,566.6L626.1,564.9M637.0,553.2L621.9,549.7M624.9,553.1L621.9,549.7L626.1,548.0M637.0,536.3L622.8,530.2M625.1,534.1L622.8,530.2L627.2,529.2M637.0,519.4L624.4,510.5M625.8,514.7L624.4,510.5L628.9,510.4M637.0,502.4L629.8,488.8M629.1,493.2L629.8,488.8L633.8,490.7M637.0,485.5L632.3,470.8M630.9,475.0L632.3,470.8L635.9,473.4M637.0,468.5L630.5,454.5M629.6,458.9L630.5,454.5L634.4,456.6M637.0,451.5L625.9,440.7M626.7,445.2L625.9,440.7L630.4,441.4M637.0,434.5L623.2,427.4M625.3,431.4L623.2,427.4L627.7,426.7M637.0,417.4L622.5,412.1M625.0,415.8L622.5,412.1L626.8,410.8M637.0,400.2L622.5,394.9M625.0,398.7L622.5,394.9L626.8,393.7M637.0,383.0L622.1,379.0M624.9,382.5L622.1,379.0L626.3,377.4M637.0,365.8L621.8,363.1M624.9,366.3L621.8,363.1L625.8,361.1M637.0,348.5L622.1,344.5M624.9,348.0L622.1,344.5L626.3,342.9M637.0,331.1L621.8,328.2M624.9,331.4L621.8,328.2L625.9,326.3M637.0,313.7L621.9,310.4M624.9,313.8L621.9,310.4L626.0,308.6M637.0,296.1L621.9,292.6M624.9,296.0L621.9,292.6L626.1,290.9M637.0,278.5L622.1,274.5M624.9,278.0L622.1,274.5L626.3,272.9M637.0,260.8L622.4,255.7M625.0,259.4L622.4,255.7L626.7,254.4M637.0,242.9L623.0,236.4M625.2,240.3L623.0,236.4L627.4,235.5M637.0,225.0L623.6,217.3M625.5,221.4L623.6,217.3L628.1,216.8M637.0,207.0L625.4,196.8M626.4,201.2L625.4,196.8L629.8,197.2M637.0,188.8L627.3,176.8M627.5,181.3L627.3,176.8L631.6,177.9M637.0,170.5L631.0,156.3M630.0,160.6L631.0,156.3L634.9,158.6M637.0,152.1L634.4,136.8M632.4,140.9L634.4,136.8L637.6,140.0M637.0,133.5L637.2,118.0M634.5,121.6L637.2,118.0L639.8,121.7M637.0,114.8L641.7,100.0M638.1,102.7L641.7,100.0L643.2,104.3M637.0,95.9L641.4,81.0M637.8,83.8L641.4,81.0L642.9,85.3M637.0,76.9L634.0,61.7M632.1,65.7L634.0,61.7L637.3,64.7M637.0,57.6L625.2,47.7M626.3,52.0L625.2,47.7L629.7,48.0M637.0,38.2L626.5,26.9M627.0,31.3L626.5,26.9L630.9,27.7"/>
</g>
<g fill="#c0c0c0" stroke="#000" stroke-width="1.5" stroke-linejoin="miter">
<path d="M100,30 505,30 504.7,36.6 503,40.9 498.7,46.9 494.4,49.4 493.6,55.5 496.1,59.7 497,64 492.7,66.6 490.1,70.9 485.8,72.6 483.3,76.9 480.7,82.1 479,85.5 476.4,91.5 472.1,94.9 469.5,99.2 465.2,99.2 460.9,100.1 460.9,106.1 461.8,111.2 460.9,116.4 462.7,120.7 458.4,124.1 454.1,126.7 451.5,130.1 448.9,133.5 445.5,136.1 442.9,140.4 434.3,144.6 430.9,150.6 427.5,154.9 422.3,158.3 417.2,160.9 412.9,163.5 408.6,164.3 409.5,168.6 405.2,172 398.3,172.9 393.2,173.7 388.9,172.9 383.7,175.5 379.4,175.5 376,178.9 373.4,178.9 370,182.3 366.6,184 363.1,185.8 361.4,181.5 362.3,176.3 359.7,172 357.1,168.6 357.1,173.7 358,178.9 356.3,183.2 353.7,184.9 351.1,182.3 350.3,178.9 349.4,184.9 346,191.8 340.8,193.5 335.7,192.6 328.8,195.2 323.7,197.8 318.5,198.6 313.4,200.3 309.1,201.2 306.5,199.5 307.4,203.8 304.8,208.1 303.9,210.6 306.5,212.4 308.2,215.8 305.6,219.2 302.2,220.1 299.6,218.4 297.6,214.1 296.2,208.9 295.3,203.8 297.1,200.3 297.9,197.8 294.5,196.9 291.9,193.5 289.3,196.9 285.9,197.8 282.5,196.1 278.2,193.5 274.7,191.8 272.2,194.3 268.7,196.9 263.6,196.9 259.3,201.2 255,203.8 253.3,208.1 249.9,209.8 244.7,210.6 243,211.5 243,215.8 240.4,219.2 237.9,222.7 231.8,225.2 230.1,231.2 228.4,238.1 226.7,243.3 228.4,246.7 230.1,251.8 232.7,254.3 237,257.7 239.6,262.9 241.3,267.2 243,269.7 246.4,274 249.9,277.5 252.4,281.7 256.7,285.2 261,288.6 265.3,291.2 269.6,293.8 273,297.2 275.6,301.5 279,305.8 281.6,309.2 282.8,314.4 283.8,320.4 285.9,326.4 287.3,332.4 288.5,339.2 289,346.1 288,351.3 285.9,354.7 285,359.8 285.9,358 285.6,363.1 285,368.3 283.3,373.4 280.8,377.7 276.5,381.2 271.3,383.7 266.2,386.3 260.2,389.7 255,392.3 249.9,394 245.6,395.8 245.6,396.2 243,400.1 241.1,404 239.2,407.2 235.3,409.8 231.4,412.4 226.2,414.3 222.3,416.3 219.8,419.5 217.2,422.7 212.6,424.4 211.3,422.1 212,416.9 212.6,411.7 213.3,406.6 215.2,402.7 214.6,398.8 212,396.9 208.8,394.9 205.5,392.3 202.3,391 197.8,391 193.9,389.1 190,386.5 188.1,388 185.5,385.5 183.8,381.2 182.1,376 178.6,372.6 176.1,368.3 172.6,365.7 169.2,361.4 171.8,361.5 168.3,359 163.2,356.4 159.8,353.8 152.9,354.3 146.9,353.8 145.2,351.3 144.3,346.1 146.9,343.5 146.9,340.1 140.9,338.9 135.7,339.2 130.6,341.8 129.7,346.1 130.3,353 129.2,358.1 129.7,364 128,363.1 125.4,370 122.9,376.9 122,383.7 119.4,390.6 117.7,397.5 116.9,404.3 117.7,411.2 120.3,413.8 124.6,411.2 127.2,407.8 128.9,412.9 129.7,419.8 132.3,426.6 135.7,431.8 137.5,438.7 140,445.5 143.5,450.7 147.8,453.2 152.9,452.4 156.3,455.8 160.6,461 164.9,465.3 170.1,467.8 174.4,470.4 176.1,472.3 180.4,475.7 183.8,480 186.4,485.2 188.1,491.2 188.1,498 187.2,504.9 188.1,511.8 189.8,518.6 192.4,523.8 195.8,528.9 198.4,534.1 200.1,539.2 201.8,544.4 199.2,546.9 194.1,546.1 189.8,546.9 187.2,549.5 183.8,547.8 180.4,546.1 176.1,542.7 171.8,539.2 168.3,535.8 164.1,532.4 159.8,528.9 155.5,525.5 152.9,521.2 152,516.9 148.6,511.8 145.2,507.5 143.5,503.2 141.7,496.3 140.9,489.5 138.3,484.3 137.5,479.2 136.6,474 135.7,468.9 133.2,463.7 131.5,472 130.6,467.8 129.7,461 127.2,457.5 124.6,454.1 123.7,447.2 121.2,445.5 118.6,440.4 116.9,436.1 112.6,435.2 100,435Z"/>
<path d="M110,508.3 112.6,509.2 116.9,511.8 121.2,515.2 126.3,518.6 129.7,522.9 132.3,527.2 137.5,530.6 141.7,534.1 145.2,537.5 149.5,534.1 152.9,537.5 156.3,541.8 161.5,543.5 164.9,546.1 167.5,551.2 170.1,555.5 174.4,557.2 178.6,558.1 182.9,560.7 180.4,564.1 185.5,563.3 189.8,565 192.4,567.5 194.1,571.8 125.4,571.8 124.9,569.9 120.3,567 115.5,563.4 114.1,556.4 113.3,550 112.1,540.1 110,539.2Z"/>
<path d="M284.2,571.8 281.6,563.3 279.9,558.1 281.6,551.2 284.2,544.4 288.5,539.2 291.9,535.8 294.5,540.9 299.6,541.8 304.8,540.9 309.1,543.5 313.4,544.4 317.7,545.2 319.4,539.2 320.2,532.4 321.1,525.5 323.7,522.1 328.8,521.2 334,519.5 339.1,518.6 346,517.8 350.3,516.9 354.5,511.8 359.7,506.6 363.1,502.3 365.7,497.2 368.3,492.9 371.7,492 376,490.3 379.4,487.7 382.9,485.2 386.3,481.7 391.4,478.3 395.7,474.9 400,470.6 404.3,466.3 405.2,466.1 409.5,461 412,455.8 413.8,451.5 416.3,456.7 419.8,452.4 421.5,457.5 424.9,459.3 428.3,461 429.2,466.1 432.6,469.5 428.3,468.9 432.6,472.3 437.8,473.2 442.9,474 446.4,476.6 451.5,478.3 455.8,480 455.8,482.6 451.5,484.3 446.4,485.2 441.2,486 436.9,487.7 438.6,491.2 442.9,493.7 446.4,495.5 442.1,497.2 436.1,498 430.9,498.9 429.2,503.2 430.9,507.5 427.5,511.8 425.8,516.1 428.3,520.3 430.9,524.6 433.5,528.1 434.3,532.4 431.8,535.8 434.3,540.1 438.6,543.5 442.9,546.9 447.2,550.4 450.7,554.7 446.4,556 441.2,555.5 436.1,556.4 430.9,557.2 428.3,561.5 426.6,565.8 425.8,571.8Z"/>
<path d="M478.6,252 482.5,250.5 487.2,249.7 491.8,252.8 495.7,255.1 499.6,255.9 503.4,254.3 505.7,251.2 507.3,253.5 506.5,259 505,263.6 505.7,269.8 508.1,274.5 511.2,277.6 510.4,282.2 508.1,286.8 505,290.7 501.1,293.8 497.2,296.1 494.1,299.2 492.6,303.4 491.6,309.6 493.7,314.8 494.7,321 497.8,325.1 501.9,328.2 506.1,330.3 509.2,328.2 512.3,327.2 516.4,329.2 520.5,332.3 524.6,334.4 528.8,334.4 533.9,336.4 538.1,339.5 535,341.6 531.9,344.7 535,347.8 537,351.9 536,355 532.9,351.9 528.8,348.8 524.6,345.7 521.5,342.6 518.4,339.5 515.4,336.4 512.3,339.5 511.2,342.6 508.1,340.6 504,337.5 499.9,334.4 495.7,332.3 491.6,334.4 486.4,336.4 481.3,334.4 478.2,332.3 479.2,328.2 482.3,325.1 484.4,321 482.3,317.9 479.2,318.9 477.2,323 473,318.9 469.9,313.7 467.9,306.5 465.8,298.3 466.3,297.7 465.5,291.5 467.8,290.7 470.9,293.8 474,292.3 474.8,286.8 475.5,281.4 476.3,276 475.5,269.8 476.3,263.6 477.1,257.4Z"/>
</g>
<g fill="#c0c0c0" stroke="#000" stroke-width="1" stroke-linejoin="miter">
<path d="M299.5,223.7 296,225.4 290.9,226.2 285.5,228.1 283.7,230.7 279.4,234.2 276.7,237.8 275.8,241.4 275.8,246.8 277.6,252.3 279.6,253.2 285.7,255.8 292,257.7 296.6,254.9 300.8,252.3 306,249.9 309.7,245.3 311.4,240.1 314,235.9 316.6,231.4 316.6,227.3 312,225.5 309.3,222.7 304.7,224.5Z"/>
<path d="M494.5,127.7 488.6,130.4 483.5,135.5 478.4,141.6 474.1,148.6 471.3,155.4 469.3,160.8 468.8,167.8 470.6,173.2 473.3,176.7 476.7,181 479.1,185.2 480.5,189.9 483.9,189.9 484.8,184.2 486.4,179.2 489,174 491.6,168 494.3,161.1 495.1,155 496.8,149.1 499.3,142.3 501.7,137.1 500.6,131Z"/>
<path d="M461.4,385.2 457.5,387.5 455.3,390.1 452.7,392.7 449.3,396.1 445.8,399.6 443.2,403.9 439,408.1 433.9,412.4 428.7,416.7 424.4,421 421,425.4 417.4,429.7 415.6,434.4 417,438.3 420.4,433.8 422.1,429.6 424.6,427.1 427.9,424.7 432.2,421.2 437.3,417.8 442.6,414.3 446.1,409.9 447.8,405.5 450.3,401.4 454.5,398.9 458.9,395.4 462.6,390.8Z"/>
<path d="M464.4,572.5 470.9,572.5 472.7,565.4 476.7,563.1 482.5,561.9 489.3,562.2 496.1,562.6 503,563.1 509,562.2 515.7,563.1 522.6,565.3 529.7,564.8 536.6,564 542.8,562.1 548.1,558.6 551.5,554.2 555.1,549.9 558,545.1 554.7,541.9 549.9,542.8 545.4,546.4 541.2,550.7 536.2,554 529.5,555.3 522.7,555.7 516.1,554.8 509.2,552.3 503.1,551.4 498,550.5 492.9,548.8 487.5,547.1 483,548 474.3,554.9 470.7,557.6 468.1,561.1 465.4,564.7Z"/>
<path d="M594,551.5 597.5,553.9 600.6,550.8 603.2,546.3 604.1,540.9 603.6,533.7 599.5,536.2 596.8,540.6 595,545.9Z"/>
<path d="M606.1,529.4 606.1,533.4 608.2,536.6 612.4,535.5 615.3,532.6 614.3,527.5 610.2,526.4Z"/>
<path d="M604.6,549 598.5,555.1 595.8,559.7 596.7,565.1 597.6,572.5 603.3,572.5 602.4,563.7 605.1,562.3 609.2,564 614.3,565.7 620.3,566.8 617.6,562.8 614.1,560.1 608.9,557.5 607.2,555.7 609.8,554.4 614.2,550.9 617.8,545.9 613.8,543.2 609,545.5Z"/>
<path d="M536.3,331.8 535.9,336 538.9,339.9 542.8,338.4 543.5,333.6 540.3,330.1Z"/>
<path d="M473.8,340.2 477.7,344.6 480.7,348.2 483.2,353.3 485.1,358.4 487.1,363.2 491.1,361.8 494,357.4 494.8,351.8 492.2,345.3 486.7,341 480.3,338.8Z"/>
<path d="M498.8,338.9 498.8,343.6 502,346.3 505.2,342.8 503.5,338.3Z"/>
<path d="M501.2,355.5 501.2,362.4 503.7,368.6 505.7,361.3 505,354.8Z"/>
<path d="M508.1,356.6 510.9,361.5 515.4,359.5 512.6,355.7Z"/>
<path d="M522.4,356.9 523.4,361.4 526.8,363.6 530.7,366.2 534,368.8 538.5,369.9 534.8,364.5 530.9,360.5 526.9,357.8Z"/>
<path d="M540.2,357.3 544.1,362.7 548,367.9 551.8,374.4 555.8,379.8 560.4,382 563.6,378.1 562.2,372.6 561.6,363.4 558,357.2 549.9,355.8Z"/>
<path d="M541.3,372.2 542,376.8 544.1,382 546.7,387.2 548.5,392.3 550.7,398.5 555.5,399.4 557,393.4 554.4,386.7 553.1,381.5 550.5,376.2 546.3,370.6Z"/>
<path d="M500.5,367.8 501.9,379.2 500.6,386.8 499.8,395.3 503.7,391.3 507.6,388.8 512.7,386.2 516.6,383.6 520.7,381 522.2,376.3 519.1,374 512.5,372 506.1,369.4Z"/>
<path d="M516.7,384.5 516.7,392.1 514.8,397.9 510.6,399.9 509.5,403.5 511.7,409 514.9,413.3 519.8,417 522.2,412 523.3,405.7 524.3,399.6 526.4,394.5 527.4,389.1 526.3,384.4 521.5,383.2Z"/>
<path d="M530.2,383.4 528.5,392 526,399.2 523.9,405.4 522.6,412.1 526.2,410.2 529.4,403.8 532.5,397.6 534.6,391.4 536.8,384.8 534.1,382.1Z"/>
<path d="M533.2,401.2 533.2,405 536.4,407.3 541.4,407.3 545.6,405 546,400.8 542.4,397.7 536.7,398.3Z"/>
<path d="M559.9,403 559.9,408.3 561.4,412.2 560.8,416.1 558.1,416.8 554.3,418.4 550.1,417.5 548.4,421.8 545.5,424.7 540.6,426.2 539.1,430.9 534.7,432.4 533,433.3 533.4,431.5 532.6,426.5 529.9,423.9 525.6,423 521.5,425.4 519,428 517.5,432.4 513.3,433.1 508.4,433.9 505,437.2 503.4,441.3 501.8,446 500.3,449.9 501.2,454.1 505.3,452.1 507.8,448 509.3,444.2 511.4,442.1 513.8,441.5 516.1,444.4 519.8,445.4 522.9,442.9 526.1,442.1 528.6,438.9 530.4,437.7 532.3,439 535.4,441.3 538.3,443.6 539.7,446.2 537.5,449.7 535.9,454.7 536.7,459.5 538.3,463.6 541.6,466.9 546.3,469.2 550.3,470.9 554.5,471.6 556.4,470.4 557.7,473.7 560.7,476.7 563.5,472 565.2,467.2 564.4,462.1 562,459 560.6,455.5 562,452 565,449 566.6,447.9 568.5,450.4 570.8,453.4 571.8,458 573.9,465.9 574.1,465.9 575.2,454.3 577.3,452.9 579.9,448.7 580.6,443.7 579.1,439 577.5,434.4 576,429.6 573.7,425 572.1,419.5 569.7,414.8 566.5,410.8 563.4,407.7Z"/>
<path d="M498.6,457.5 499.6,461.2 503.5,461.9 506.4,459.5 505.3,456.4 501.6,455.4Z"/>
<path d="M153.2,535.2 152.4,539.1 155.2,542 159.5,541.5 160.6,537.3 157.4,534.1Z"/>
<path d="M165.6,543.3 166.8,549 169.6,552.6 174,555.3 178.3,557.9 183.4,558.9 184.6,555.3 179.9,550.6 175.6,548.9 171.3,545.5Z"/>
<path d="M268.7,499.1 264.2,503.9 266.2,508.6 270.9,509.5 273.3,503.8Z"/>
</g>
<g fill="none" stroke="#000" stroke-linecap="butt">
<path d="M504.7,36.6 503,40.9 498.7,46.9 494.4,49.4 493.6,55.5 496.1,59.7 497,64 492.7,66.6 490.1,70.9 485.8,72.6 483.3,76.9 480.7,82.1 479,85.5 476.4,91.5 472.1,94.9 469.5,99.2 465.2,99.2 460.9,100.1 460.9,106.1 461.8,111.2 460.9,116.4 462.7,120.7 458.4,124.1 454.1,126.7 451.5,130.1 448.9,133.5 445.5,136.1 442.9,140.4 434.3,144.6 430.9,150.6 427.5,154.9 422.3,158.3 417.2,160.9 412.9,163.5 408.6,164.3 409.5,168.6 405.2,172 398.3,172.9 393.2,173.7 388.9,172.9 383.7,175.5 379.4,175.5 376,178.9 373.4,178.9 370,182.3 366.6,184 363.1,185.8 361.4,181.5 362.3,176.3 359.7,172 357.1,168.6 357.1,173.7 358,178.9 356.3,183.2 353.7,184.9 351.1,182.3 350.3,178.9 349.4,184.9 346,191.8 340.8,193.5 335.7,192.6 328.8,195.2 323.7,197.8 318.5,198.6 313.4,200.3 309.1,201.2 306.5,199.5 307.4,203.8 304.8,208.1 303.9,210.6 306.5,212.4 308.2,215.8 305.6,219.2 302.2,220.1 299.6,218.4 297.6,214.1 296.2,208.9 295.3,203.8 297.1,200.3 297.9,197.8 294.5,196.9 291.9,193.5 289.3,196.9 285.9,197.8 282.5,196.1 278.2,193.5 274.7,191.8 272.2,194.3 268.7,196.9 263.6,196.9 259.3,201.2 255,203.8 253.3,208.1 249.9,209.8 244.7,210.6" stroke-width="3.6" stroke-dasharray="2 1.5 1 3 3 2 1.5 4 2.5 1"/>
<path d="M504.7,36.6 503,40.9 498.7,46.9 494.4,49.4 493.6,55.5 496.1,59.7 497,64 492.7,66.6 490.1,70.9 485.8,72.6 483.3,76.9 480.7,82.1 479,85.5 476.4,91.5 472.1,94.9 469.5,99.2 465.2,99.2 460.9,100.1 460.9,106.1 461.8,111.2 460.9,116.4 462.7,120.7 458.4,124.1 454.1,126.7 451.5,130.1 448.9,133.5 445.5,136.1 442.9,140.4 434.3,144.6 430.9,150.6 427.5,154.9 422.3,158.3 417.2,160.9 412.9,163.5 408.6,164.3 409.5,168.6 405.2,172 398.3,172.9 393.2,173.7 388.9,172.9 383.7,175.5 379.4,175.5 376,178.9 373.4,178.9 370,182.3 366.6,184 363.1,185.8 361.4,181.5 362.3,176.3 359.7,172 357.1,168.6 357.1,173.7 358,178.9 356.3,183.2 353.7,184.9 351.1,182.3 350.3,178.9 349.4,184.9 346,191.8 340.8,193.5 335.7,192.6 328.8,195.2 323.7,197.8 318.5,198.6 313.4,200.3 309.1,201.2 306.5,199.5 307.4,203.8 304.8,208.1 303.9,210.6 306.5,212.4 308.2,215.8 305.6,219.2 302.2,220.1 299.6,218.4 297.6,214.1 296.2,208.9 295.3,203.8 297.1,200.3 297.9,197.8 294.5,196.9 291.9,193.5 289.3,196.9 285.9,197.8 282.5,196.1 278.2,193.5 274.7,191.8 272.2,194.3 268.7,196.9 263.6,196.9 259.3,201.2 255,203.8 253.3,208.1 249.9,209.8 244.7,210.6" stroke-width="5.5" stroke-dasharray="1 7 2 11 1.5 5 1 13"/>
<path d="M243,211.5 243,215.8 240.4,219.2 237.9,222.7 231.8,225.2 230.1,231.2 228.4,238.1 226.7,243.3 228.4,246.7 230.1,251.8 232.7,254.3 237,257.7 239.6,262.9 241.3,267.2 243,269.7 246.4,274 249.9,277.5 252.4,281.7 256.7,285.2 261,288.6 265.3,291.2 269.6,293.8 273,297.2 275.6,301.5 279,305.8 281.6,309.2 282.8,314.4 283.8,320.4 285.9,326.4 287.3,332.4 288.5,339.2 289,346.1 288,351.3 285.9,354.7 285,359.8 285.9,358 285.6,363.1 285,368.3 283.3,373.4 280.8,377.7 276.5,381.2 271.3,383.7 266.2,386.3 260.2,389.7 255,392.3 249.9,394 245.6,395.8 245.6,396.2 243,400.1 241.1,404 239.2,407.2 235.3,409.8 231.4,412.4 226.2,414.3 222.3,416.3 219.8,419.5 217.2,422.7 212.6,424.4 211.3,422.1 212,416.9 212.6,411.7 213.3,406.6 215.2,402.7 214.6,398.8 212,396.9 208.8,394.9 205.5,392.3 202.3,391 197.8,391 193.9,389.1 190,386.5 188.1,388 185.5,385.5 183.8,381.2 182.1,376 178.6,372.6 176.1,368.3 172.6,365.7 169.2,361.4 171.8,361.5 168.3,359 163.2,356.4 159.8,353.8 152.9,354.3 146.9,353.8 145.2,351.3 144.3,346.1 146.9,343.5 146.9,340.1 140.9,338.9 135.7,339.2 130.6,341.8 129.7,346.1 130.3,353 129.2,358.1 129.7,364 128,363.1 125.4,370 122.9,376.9 122,383.7 119.4,390.6 117.7,397.5 116.9,404.3 117.7,411.2 120.3,413.8 124.6,411.2 127.2,407.8 128.9,412.9 129.7,419.8 132.3,426.6 135.7,431.8 137.5,438.7 140,445.5 143.5,450.7 147.8,453.2 152.9,452.4 156.3,455.8 160.6,461 164.9,465.3 170.1,467.8 174.4,470.4 176.1,472.3 180.4,475.7 183.8,480 186.4,485.2 188.1,491.2 188.1,498 187.2,504.9 188.1,511.8 189.8,518.6 192.4,523.8 195.8,528.9 198.4,534.1 200.1,539.2 201.8,544.4 199.2,546.9 194.1,546.1 189.8,546.9 187.2,549.5 183.8,547.8 180.4,546.1 176.1,542.7 171.8,539.2 168.3,535.8 164.1,532.4 159.8,528.9 155.5,525.5 152.9,521.2 152,516.9 148.6,511.8 145.2,507.5 143.5,503.2 141.7,496.3 140.9,489.5 138.3,484.3 137.5,479.2 136.6,474 135.7,468.9 133.2,463.7 131.5,472 130.6,467.8 129.7,461 127.2,457.5 124.6,454.1 123.7,447.2 121.2,445.5 118.6,440.4 116.9,436.1 112.6,435.2" stroke-width="2.8" stroke-dasharray="1 2.5 2 4 1 3 1.5 6"/>
<path d="M299.5,223.7 296,225.4 290.9,226.2 285.5,228.1 283.7,230.7 279.4,234.2 276.7,237.8 275.8,241.4 275.8,246.8 277.6,252.3 279.6,253.2 285.7,255.8 292,257.7 296.6,254.9 300.8,252.3 306,249.9 309.7,245.3 311.4,240.1 314,235.9 316.6,231.4 316.6,227.3 312,225.5 309.3,222.7 304.7,224.5 299.5,223.7" stroke-width="2.4" stroke-dasharray="1 3 1.5 5 1 4"/>
<path d="M494.5,127.7 488.6,130.4 483.5,135.5 478.4,141.6 474.1,148.6 471.3,155.4 469.3,160.8 468.8,167.8 470.6,173.2 473.3,176.7 476.7,181 479.1,185.2 480.5,189.9 483.9,189.9 484.8,184.2 486.4,179.2 489,174 491.6,168 494.3,161.1 495.1,155 496.8,149.1 499.3,142.3 501.7,137.1 500.6,131 494.5,127.7" stroke-width="2.4" stroke-dasharray="1 3 1.5 5 1 4"/>
<path d="M110,508.3 112.6,509.2 116.9,511.8 121.2,515.2 126.3,518.6 129.7,522.9 132.3,527.2 137.5,530.6 141.7,534.1 145.2,537.5 149.5,534.1 152.9,537.5 156.3,541.8 161.5,543.5 164.9,546.1 167.5,551.2 170.1,555.5 174.4,557.2 178.6,558.1 182.9,560.7 180.4,564.1 185.5,563.3 189.8,565 192.4,567.5 194.1,571.8 125.4,571.8 124.9,569.9 120.3,567 115.5,563.4 114.1,556.4 113.3,550 112.1,540.1 110,539.2 110,508.3" stroke-width="2.8" stroke-dasharray="1 2.5 2 4 1 3 1.5 6"/>
<path d="M284.2,571.8 281.6,563.3 279.9,558.1 281.6,551.2 284.2,544.4 288.5,539.2 291.9,535.8 294.5,540.9 299.6,541.8 304.8,540.9 309.1,543.5 313.4,544.4 317.7,545.2 319.4,539.2 320.2,532.4 321.1,525.5 323.7,522.1 328.8,521.2 334,519.5 339.1,518.6 346,517.8 350.3,516.9 354.5,511.8 359.7,506.6 363.1,502.3 365.7,497.2 368.3,492.9 371.7,492 376,490.3 379.4,487.7 382.9,485.2 386.3,481.7 391.4,478.3 395.7,474.9 400,470.6 404.3,466.3 405.2,466.1 409.5,461 412,455.8 413.8,451.5 416.3,456.7 419.8,452.4 421.5,457.5 424.9,459.3 428.3,461 429.2,466.1 432.6,469.5 428.3,468.9 432.6,472.3 437.8,473.2 442.9,474 446.4,476.6 451.5,478.3 455.8,480 455.8,482.6 451.5,484.3 446.4,485.2 441.2,486 436.9,487.7 438.6,491.2 442.9,493.7 446.4,495.5 442.1,497.2 436.1,498 430.9,498.9 429.2,503.2 430.9,507.5 427.5,511.8 425.8,516.1 428.3,520.3 430.9,524.6 433.5,528.1 434.3,532.4 431.8,535.8 434.3,540.1 438.6,543.5 442.9,546.9 447.2,550.4 450.7,554.7 446.4,556 441.2,555.5 436.1,556.4 430.9,557.2 428.3,561.5 426.6,565.8 425.8,571.8 284.2,571.8" stroke-width="2.8" stroke-dasharray="1 2.5 2 4 1 3 1.5 6"/>
<path d="M461.4,385.2 457.5,387.5 455.3,390.1 452.7,392.7 449.3,396.1 445.8,399.6 443.2,403.9 439,408.1 433.9,412.4 428.7,416.7 424.4,421 421,425.4 417.4,429.7 415.6,434.4 417,438.3 420.4,433.8 422.1,429.6 424.6,427.1 427.9,424.7 432.2,421.2 437.3,417.8 442.6,414.3 446.1,409.9 447.8,405.5 450.3,401.4 454.5,398.9 458.9,395.4 462.6,390.8 461.4,385.2" stroke-width="2.4" stroke-dasharray="1 3 1.5 5 1 4"/>
<path d="M464.4,572.5 470.9,572.5 472.7,565.4 476.7,563.1 482.5,561.9 489.3,562.2 496.1,562.6 503,563.1 509,562.2 515.7,563.1 522.6,565.3 529.7,564.8 536.6,564 542.8,562.1 548.1,558.6 551.5,554.2 555.1,549.9 558,545.1 554.7,541.9 549.9,542.8 545.4,546.4 541.2,550.7 536.2,554 529.5,555.3 522.7,555.7 516.1,554.8 509.2,552.3 503.1,551.4 498,550.5 492.9,548.8 487.5,547.1 483,548 474.3,554.9 470.7,557.6 468.1,561.1 465.4,564.7 464.4,572.5" stroke-width="2.4" stroke-dasharray="1 3 1.5 5 1 4"/>
<path d="M594,551.5 597.5,553.9 600.6,550.8 603.2,546.3 604.1,540.9 603.6,533.7 599.5,536.2 596.8,540.6 595,545.9 594,551.5" stroke-width="2.4" stroke-dasharray="1 3 1.5 5 1 4"/>
<path d="M606.1,529.4 606.1,533.4 608.2,536.6 612.4,535.5 615.3,532.6 614.3,527.5 610.2,526.4 606.1,529.4" stroke-width="2.4" stroke-dasharray="1 3 1.5 5 1 4"/>
<path d="M604.6,549 598.5,555.1 595.8,559.7 596.7,565.1 597.6,572.5 603.3,572.5 602.4,563.7 605.1,562.3 609.2,564 614.3,565.7 620.3,566.8 617.6,562.8 614.1,560.1 608.9,557.5 607.2,555.7 609.8,554.4 614.2,550.9 617.8,545.9 613.8,543.2 609,545.5 604.6,549" stroke-width="2.4" stroke-dasharray="1 3 1.5 5 1 4"/>
<path d="M478.6,252 482.5,250.5 487.2,249.7 491.8,252.8 495.7,255.1 499.6,255.9 503.4,254.3 505.7,251.2 507.3,253.5 506.5,259 505,263.6 505.7,269.8 508.1,274.5 511.2,277.6 510.4,282.2 508.1,286.8 505,290.7 501.1,293.8 497.2,296.1 494.1,299.2 492.6,303.4 491.6,309.6 493.7,314.8 494.7,321 497.8,325.1 501.9,328.2 506.1,330.3 509.2,328.2 512.3,327.2 516.4,329.2 520.5,332.3 524.6,334.4 528.8,334.4 533.9,336.4 538.1,339.5 535,341.6 531.9,344.7 535,347.8 537,351.9 536,355 532.9,351.9 528.8,348.8 524.6,345.7 521.5,342.6 518.4,339.5 515.4,336.4 512.3,339.5 511.2,342.6 508.1,340.6 504,337.5 499.9,334.4 495.7,332.3 491.6,334.4 486.4,336.4 481.3,334.4 478.2,332.3 479.2,328.2 482.3,325.1 484.4,321 482.3,317.9 479.2,318.9 477.2,323 473,318.9 469.9,313.7 467.9,306.5 465.8,298.3 466.3,297.7 465.5,291.5 467.8,290.7 470.9,293.8 474,292.3 474.8,286.8 475.5,281.4 476.3,276 475.5,269.8 476.3,263.6 477.1,257.4 478.6,252" stroke-width="2.8" stroke-dasharray="1 2.5 2 4 1 3 1.5 6"/>
<path d="M536.3,331.8 535.9,336 538.9,339.9 542.8,338.4 543.5,333.6 540.3,330.1 536.3,331.8" stroke-width="2.4" stroke-dasharray="1 3 1.5 5 1 4"/>
<path d="M473.8,340.2 477.7,344.6 480.7,348.2 483.2,353.3 485.1,358.4 487.1,363.2 491.1,361.8 494,357.4 494.8,351.8 492.2,345.3 486.7,341 480.3,338.8 473.8,340.2" stroke-width="2.4" stroke-dasharray="1 3 1.5 5 1 4"/>
<path d="M498.8,338.9 498.8,343.6 502,346.3 505.2,342.8 503.5,338.3 498.8,338.9" stroke-width="2.4" stroke-dasharray="1 3 1.5 5 1 4"/>
<path d="M501.2,355.5 501.2,362.4 503.7,368.6 505.7,361.3 505,354.8 501.2,355.5" stroke-width="2.4" stroke-dasharray="1 3 1.5 5 1 4"/>
<path d="M508.1,356.6 510.9,361.5 515.4,359.5 512.6,355.7 508.1,356.6" stroke-width="2.4" stroke-dasharray="1 3 1.5 5 1 4"/>
<path d="M522.4,356.9 523.4,361.4 526.8,363.6 530.7,366.2 534,368.8 538.5,369.9 534.8,364.5 530.9,360.5 526.9,357.8 522.4,356.9" stroke-width="2.4" stroke-dasharray="1 3 1.5 5 1 4"/>
<path d="M540.2,357.3 544.1,362.7 548,367.9 551.8,374.4 555.8,379.8 560.4,382 563.6,378.1 562.2,372.6 561.6,363.4 558,357.2 549.9,355.8 540.2,357.3" stroke-width="2.4" stroke-dasharray="1 3 1.5 5 1 4"/>
<path d="M541.3,372.2 542,376.8 544.1,382 546.7,387.2 548.5,392.3 550.7,398.5 555.5,399.4 557,393.4 554.4,386.7 553.1,381.5 550.5,376.2 546.3,370.6 541.3,372.2" stroke-width="2.4" stroke-dasharray="1 3 1.5 5 1 4"/>
<path d="M500.5,367.8 501.9,379.2 500.6,386.8 499.8,395.3 503.7,391.3 507.6,388.8 512.7,386.2 516.6,383.6 520.7,381 522.2,376.3 519.1,374 512.5,372 506.1,369.4 500.5,367.8" stroke-width="2.4" stroke-dasharray="1 3 1.5 5 1 4"/>
<path d="M516.7,384.5 516.7,392.1 514.8,397.9 510.6,399.9 509.5,403.5 511.7,409 514.9,413.3 519.8,417 522.2,412 523.3,405.7 524.3,399.6 526.4,394.5 527.4,389.1 526.3,384.4 521.5,383.2 516.7,384.5" stroke-width="2.4" stroke-dasharray="1 3 1.5 5 1 4"/>
<path d="M530.2,383.4 528.5,392 526,399.2 523.9,405.4 522.6,412.1 526.2,410.2 529.4,403.8 532.5,397.6 534.6,391.4 536.8,384.8 534.1,382.1 530.2,383.4" stroke-width="2.4" stroke-dasharray="1 3 1.5 5 1 4"/>
<path d="M533.2,401.2 533.2,405 536.4,407.3 541.4,407.3 545.6,405 546,400.8 542.4,397.7 536.7,398.3 533.2,401.2" stroke-width="2.4" stroke-dasharray="1 3 1.5 5 1 4"/>
<path d="M559.9,403 559.9,408.3 561.4,412.2 560.8,416.1 558.1,416.8 554.3,418.4 550.1,417.5 548.4,421.8 545.5,424.7 540.6,426.2 539.1,430.9 534.7,432.4 533,433.3 533.4,431.5 532.6,426.5 529.9,423.9 525.6,423 521.5,425.4 519,428 517.5,432.4 513.3,433.1 508.4,433.9 505,437.2 503.4,441.3 501.8,446 500.3,449.9 501.2,454.1 505.3,452.1 507.8,448 509.3,444.2 511.4,442.1 513.8,441.5 516.1,444.4 519.8,445.4 522.9,442.9 526.1,442.1 528.6,438.9 530.4,437.7 532.3,439 535.4,441.3 538.3,443.6 539.7,446.2 537.5,449.7 535.9,454.7 536.7,459.5 538.3,463.6 541.6,466.9 546.3,469.2 550.3,470.9 554.5,471.6 556.4,470.4 557.7,473.7 560.7,476.7 563.5,472 565.2,467.2 564.4,462.1 562,459 560.6,455.5 562,452 565,449 566.6,447.9 568.5,450.4 570.8,453.4 571.8,458 573.9,465.9 574.1,465.9 575.2,454.3 577.3,452.9 579.9,448.7 580.6,443.7 579.1,439 577.5,434.4 576,429.6 573.7,425 572.1,419.5 569.7,414.8 566.5,410.8 563.4,407.7 559.9,403" stroke-width="2.4" stroke-dasharray="1 3 1.5 5 1 4"/>
<path d="M498.6,457.5 499.6,461.2 503.5,461.9 506.4,459.5 505.3,456.4 501.6,455.4 498.6,457.5" stroke-width="2.4" stroke-dasharray="1 3 1.5 5 1 4"/>
<path d="M153.2,535.2 152.4,539.1 155.2,542 159.5,541.5 160.6,537.3 157.4,534.1 153.2,535.2" stroke-width="2.4" stroke-dasharray="1 3 1.5 5 1 4"/>
<path d="M165.6,543.3 166.8,549 169.6,552.6 174,555.3 178.3,557.9 183.4,558.9 184.6,555.3 179.9,550.6 175.6,548.9 171.3,545.5 165.6,543.3" stroke-width="2.4" stroke-dasharray="1 3 1.5 5 1 4"/>
<path d="M268.7,499.1 264.2,503.9 266.2,508.6 270.9,509.5 273.3,503.8 268.7,499.1" stroke-width="2.4" stroke-dasharray="1 3 1.5 5 1 4"/>
</g>
<g fill="none" stroke="#000" stroke-width="1">
<path d="M112.6,167.7 118.6,168.6 122.9,169.5 122.9,172.9 120.3,174.6 119.4,179.8 117.7,183.2 116.9,185.8 120.3,187.5 125.4,187.5 128.9,188.3 130.6,192.6 133.2,196.9 137.5,198.6 141.7,197.8 145.2,195.2 148.6,193.5 150.3,195.2 150.3,198.6 152,203.8 156.3,202.9 160.6,203.8 161.1,198.6 160.6,193.5 158.1,190.1 156.3,184.9 158.1,180.6 161.5,179.8 164.9,181.5 167.5,182.3"/>
<path d="M167.5,182.3 170.1,177.2 172.6,174.6 176.1,176.3 180.4,178.9 182.1,181.1 185.5,177.2 187.2,174.6 189.8,176.3 192.4,173.7 195.8,177.2 197.5,179.8 200.1,175.5 202.7,173.7 205.2,175.5 208.7,173.7 212.1,171.2 213,167.7 217.3,165.2 220.7,163.5 224.1,167.7 227.6,170.3 231.8,172.5 237,172.9 243,173.7 244.7,175.5 243,183.2 246.4,188.3 249.9,191.8 253.3,195.2 256.7,196.6 260.2,197.3"/>
<path d="M167.5,182.3 170.1,185.8 172.6,189.2 176.1,192.6 179.5,193.5 180.4,196.9 178.6,201.2 180.4,205.5 182.9,209.8 187.2,210.6 191.5,211.5 193.2,213.2 195.8,209.8 200.1,207.2 203.5,208.9 207,212.4 208.7,215.8 206.1,217.5 209.5,220.1 213,221.8 214.7,224.4 213,227.8 210.4,230.4 206.1,231.2 199.2,231.2 197.5,235.5 195.8,238.1 200.1,239.8 204.4,242.4 209.5,245 214.7,248.4 218.1,250.1 217.3,251.7 219.8,256 224.1,259.4 226.7,263.7 230.1,268 234.4,272.3 237.9,275.7 241.3,280 242.1,286.9 243,286.9 246.4,288.6 249,292 253.3,295.5 255.9,296.3 252.4,298.9 255,303.2 258.4,306.6 260.2,310.1 257.6,313.5 258.4,318.6 255,321.2 255,327.2 256.7,332.4 259.3,337.5 259.3,342.7 256.7,347.8 257.6,353 259.3,356.4 256.7,359.8 251.6,361.5 249.9,364 248.1,364 243,365.7"/>
<path d="M148.6,193.5 145.2,196.9 141.7,201.2 140,206.4 137.5,209.8 134,211.5 132.3,214.9 132.3,218.4 128,217.5 122,218.4 121.2,221.8 116.9,223.5 112.6,224.4"/>
<path d="M132.3,218.4 135.7,219.2 139.2,222.7 140,226.9 137.5,229.5 138.3,233 141.7,233.8 146.9,233 152,233 152,238.1 151.2,242.4 152.9,245 151.2,250.1 151.2,250 148.6,253.4 150.3,257.7 147.8,262 145.2,267.2 149.5,270.6 154.6,266.3 159.8,262 165.8,257.7 170.1,260.3 174.9,263.7 179.5,261.7 182.9,258.6 185.5,253.4 190.7,254.3 194.9,256 199.2,256.9 202.7,262 206.1,266.3 210.4,269.7 212.1,275.7 211.3,281.7 211.3,286.9 215.5,292 219.8,295.5 223.3,298.1 225,303.2 223.3,308.3 224.1,313.5 223.3,319.5 221.5,323.8 217.3,325.5"/>
<path d="M217.3,325.5 213,324.7 207.8,324.1 202.7,324.7 197.5,324.7 192.4,324.1 187.2,324.7 182.9,325.5 180.4,328.9 177.8,332.4 175.2,335.8 171.8,338.4 170.1,340.1 170.9,346.1 172.6,350.4 174.4,354.7 176.9,358.1 176.1,362.4"/>
<path d="M217.3,325.5 219.8,328.1 224.1,328.9 229.3,329.8 231.8,328.1 233.6,325.5 237.9,322.9 243,322.1 247.3,325.5 251.6,322.9 255,321.2"/>
<path d="M113.4,331.5 116,334.1 116.9,339.2 116,344.4 116.9,349.5 119.4,354.7 121.2,359.8 122,364 123.7,364.9 122,371.7 118.6,376.9 116,382 113.4,385.5"/>
<path d="M144.3,462 146.9,465.4 149.5,468.9 148.6,473.2 151.2,474.9 155.5,471.4 160.6,472.3 164.9,468 167.5,466.3"/>
<path d="M132.3,456.7 137.5,459.3 141.7,461 146.9,462.7 148.6,467.8 152,470.4"/>
<path d="M291.9,537.5 294.5,542.7 299.6,546.9 303.9,551.2 308.2,555.5 313.4,554.7 318.5,553 324.5,553 330.5,552.1 335.7,549.5 336.5,545.2 342.5,543.5 349.4,544.4 354.5,546.9 361.4,548.7 366.6,546.1 371.7,545.2 376,544.4 378.6,539.2 381.1,532.4 384.6,528.1 385.4,522.9 388.9,519.5 392.3,515.2 393.2,510.1 394,504 396.6,498.9 400,497.2 405.2,496.3 410.3,496.3 416.3,496.7 421.5,497.2 424.1,498.9"/>
<path d="M376,502.3 379.4,500.6 381.1,496.3 382,490.3 383.7,487.7"/>
<path d="M384.6,486 388,490.3 388.9,496.3"/>
<path d="M258.8,359.9 252.3,363.7 244.5,366.3 236.8,368.9 231.1,372.3 228.5,378 231.6,382.6 235.5,386.2 231.6,390.4 225.1,388.3 220,387.3 216.1,389.9 214.5,394"/>
<path d="M214.8,372.8 216.6,379.3 218.7,385.7 223.8,390.9 230.3,397.4 236.8,403.8 239.4,407.7"/>
<path d="M218.7,384.4 226.4,389.6 234.2,396.1 240.7,401.3"/>
<path d="M244.5,384.4 245.8,392.2 243.2,398.7"/>
<path d="M300.5,163.5 303.1,159.2 306.5,160.9 309.9,162.6 313.4,163.5 318.5,162.3 322.8,161.7"/>
</g>
<g fill="none" stroke="#000" stroke-width="1" stroke-dasharray="2 2 3 1.5">
<path d="M229.5,314.6 231.1,323.6 230.1,332.7 231.6,341.7 230.6,350.8 232.1,359.3"/>
<path d="M212.2,368.1 217.4,366.3 221.3,365 224.4,362.4"/>
</g>
<path fill="#000" d="M503 37h1v1h-1zM507 37h1v1h-1zM113 38h5v1h-5zM503 38h2v1h-2zM401 39h1v1h-1zM503 39h1v1h-1zM505 39h4v1h-4zM401 40h1v1h-1zM406 40h2v1h-2zM503 40h1v1h-1zM505 40h3v1h-3zM636 40h2v1h-2zM395 41h2v1h-2zM401 41h6v1h-6zM503 41h5v1h-5zM635 41h2v1h-2zM506 42h3v1h-3zM635 42h1v1h-1zM503 43h1v1h-1zM505 43h1v1h-1zM500 44h1v1h-1zM500 45h4v1h-4zM449 46h1v1h-1zM451 46h1v1h-1zM501 46h2v1h-2zM633 46h1v1h-1zM448 47h4v1h-4zM501 47h2v1h-2zM632 47h2v1h-2zM402 48h2v1h-2zM450 48h2v1h-2zM493 48h1v1h-1zM496 48h1v1h-1zM498 48h2v1h-2zM502 48h1v1h-1zM630 48h2v1h-2zM493 49h2v1h-2zM496 49h2v1h-2zM629 49h3v1h-3zM493 50h1v1h-1zM495 50h2v1h-2zM493 51h5v1h-5zM499 51h1v1h-1zM493 52h1v1h-1zM496 52h2v1h-2zM493 53h1v1h-1zM495 53h5v1h-5zM495 54h1v1h-1zM499 54h1v1h-1zM623 54h1v1h-1zM407 55h2v1h-2zM494 55h4v1h-4zM623 55h1v1h-1zM407 56h2v1h-2zM496 56h3v1h-3zM496 57h3v1h-3zM494 58h1v1h-1zM497 58h2v1h-2zM495 59h3v1h-3zM631 66h3v1h-3zM630 67h4v1h-4zM629 68h5v1h-5zM628 69h5v1h-5zM486 70h5v1h-5zM627 70h4v1h-4zM486 71h5v1h-5zM625 71h4v1h-4zM489 72h1v1h-1zM625 72h3v1h-3zM622 73h1v1h-1zM624 73h3v1h-3zM480 74h1v1h-1zM622 74h4v1h-4zM479 75h3v1h-3zM622 75h2v1h-2zM481 76h2v1h-2zM623 76h1v1h-1zM607 79h1v1h-1zM619 79h1v1h-1zM621 79h1v1h-1zM607 80h1v1h-1zM619 80h2v1h-2zM620 81h2v1h-2zM619 82h2v1h-2zM614 89h2v1h-2zM611 90h4v1h-4zM610 91h2v1h-2zM608 92h3v1h-3zM473 93h3v1h-3zM605 93h1v1h-1zM607 93h1v1h-1zM610 93h2v1h-2zM472 94h5v1h-5zM604 94h4v1h-4zM610 94h2v1h-2zM473 95h2v1h-2zM603 95h1v1h-1zM605 95h1v1h-1zM473 96h3v1h-3zM603 96h1v1h-1zM461 98h1v1h-1zM463 98h3v1h-3zM467 98h2v1h-2zM461 99h2v1h-2zM465 99h1v1h-1zM461 100h1v1h-1zM463 100h4v1h-4zM468 100h1v1h-1zM608 100h2v1h-2zM462 101h5v1h-5zM468 101h1v1h-1zM608 101h3v1h-3zM464 102h1v1h-1zM591 102h1v1h-1zM606 102h5v1h-5zM460 103h2v1h-2zM463 103h5v1h-5zM588 103h4v1h-4zM605 103h4v1h-4zM462 104h3v1h-3zM466 104h2v1h-2zM587 104h1v1h-1zM589 104h3v1h-3zM603 104h5v1h-5zM465 105h3v1h-3zM603 105h3v1h-3zM463 106h4v1h-4zM601 106h4v1h-4zM462 107h5v1h-5zM476 107h2v1h-2zM584 107h3v1h-3zM600 107h5v1h-5zM465 108h1v1h-1zM476 108h2v1h-2zM581 108h4v1h-4zM586 108h1v1h-1zM599 108h5v1h-5zM463 109h3v1h-3zM467 109h2v1h-2zM581 109h2v1h-2zM598 109h4v1h-4zM464 110h5v1h-5zM593 110h7v1h-7zM464 111h4v1h-4zM590 111h6v1h-6zM465 112h4v1h-4zM590 112h1v1h-1zM525 118h3v1h-3zM525 119h3v1h-3zM454 122h3v1h-3zM459 122h2v1h-2zM454 123h2v1h-2zM457 123h4v1h-4zM462 123h1v1h-1zM454 124h1v1h-1zM456 124h6v1h-6zM463 124h1v1h-1zM454 125h8v1h-8zM463 125h1v1h-1zM454 126h4v1h-4zM460 126h1v1h-1zM463 126h1v1h-1zM449 127h1v1h-1zM452 127h1v1h-1zM449 128h6v1h-6zM448 129h7v1h-7zM450 130h5v1h-5zM448 131h3v1h-3zM454 131h1v1h-1zM445 133h4v1h-4zM445 134h5v1h-5zM444 135h5v1h-5zM553 135h1v1h-1zM555 135h2v1h-2zM558 135h2v1h-2zM449 136h1v1h-1zM553 136h7v1h-7zM553 137h1v1h-1zM555 137h3v1h-3zM559 137h1v1h-1zM554 138h6v1h-6zM553 139h2v1h-2zM559 139h1v1h-1zM433 140h1v1h-1zM435 140h1v1h-1zM438 140h1v1h-1zM437 141h1v1h-1zM435 142h3v1h-3zM433 143h5v1h-5zM518 143h2v1h-2zM530 143h5v1h-5zM539 143h2v1h-2zM431 144h1v1h-1zM433 144h5v1h-5zM518 144h2v1h-2zM529 144h1v1h-1zM532 144h7v1h-7zM434 145h3v1h-3zM438 145h2v1h-2zM531 145h11v1h-11zM530 146h1v1h-1zM532 146h6v1h-6zM539 146h1v1h-1zM541 146h1v1h-1zM532 147h1v1h-1zM540 147h1v1h-1zM460 157h1v1h-1zM459 158h2v1h-2zM458 159h3v1h-3zM458 160h1v1h-1zM460 160h2v1h-2zM413 161h3v1h-3zM457 161h2v1h-2zM413 162h3v1h-3zM417 162h1v1h-1zM457 162h2v1h-2zM410 163h8v1h-8zM409 164h3v1h-3zM413 164h3v1h-3zM417 164h1v1h-1zM458 164h1v1h-1zM460 164h2v1h-2zM408 165h8v1h-8zM458 165h3v1h-3zM408 166h5v1h-5zM459 166h2v1h-2zM411 167h1v1h-1zM388 172h4v1h-4zM393 172h1v1h-1zM388 173h6v1h-6zM388 174h1v1h-1zM390 174h2v1h-2zM393 174h2v1h-2zM376 175h1v1h-1zM378 175h2v1h-2zM381 175h1v1h-1zM377 176h4v1h-4zM382 176h1v1h-1zM376 177h2v1h-2zM379 177h4v1h-4zM378 178h1v1h-1zM380 178h3v1h-3zM378 179h1v1h-1zM380 179h3v1h-3zM494 187h2v1h-2zM494 188h2v1h-2zM494 189h2v1h-2zM501 208h1v1h-1zM500 209h3v1h-3zM501 210h2v1h-2zM500 211h4v1h-4zM411 212h3v1h-3zM500 212h4v1h-4zM499 216h1v1h-1zM502 216h1v1h-1zM499 217h4v1h-4zM498 218h1v1h-1zM500 218h3v1h-3zM498 219h3v1h-3zM502 219h1v1h-1zM500 232h2v1h-2zM500 233h3v1h-3zM500 234h1v1h-1zM488 236h2v1h-2zM493 236h3v1h-3zM488 237h2v1h-2zM493 237h1v1h-1zM496 238h5v1h-5zM500 243h3v1h-3zM490 244h1v1h-1zM492 244h1v1h-1zM499 244h4v1h-4zM490 245h4v1h-4zM499 245h3v1h-3zM492 246h1v1h-1zM499 246h2v1h-2zM502 246h1v1h-1zM469 316h2v1h-2zM498 316h1v1h-1zM469 317h3v1h-3zM497 317h3v1h-3zM471 318h3v1h-3zM499 318h2v1h-2zM472 319h2v1h-2zM499 319h2v1h-2zM501 320h2v1h-2zM501 321h2v1h-2zM522 331h1v1h-1zM522 332h2v1h-2zM524 333h2v1h-2zM471 334h1v1h-1zM506 334h1v1h-1zM525 334h3v1h-3zM471 335h4v1h-4zM506 335h2v1h-2zM525 335h4v1h-4zM473 336h3v1h-3zM507 336h1v1h-1zM528 336h2v1h-2zM475 337h2v1h-2zM508 337h1v1h-1zM528 337h1v1h-1zM530 337h2v1h-2zM508 338h2v1h-2zM530 338h2v1h-2zM509 339h1v1h-1zM510 340h1v1h-1zM509 341h3v1h-3zM510 342h3v1h-3zM511 343h2v1h-2zM512 344h2v1h-2zM518 344h3v1h-3zM519 345h2v1h-2zM520 346h3v1h-3zM539 346h2v1h-2zM522 347h3v1h-3zM540 347h2v1h-2zM522 348h3v1h-3zM540 348h3v1h-3zM524 349h2v1h-2zM541 349h2v1h-2zM526 350h1v1h-1zM543 350h1v1h-1zM526 351h3v1h-3zM528 352h3v1h-3zM530 353h2v1h-2zM531 354h1v1h-1zM492 356h2v1h-2zM492 357h2v1h-2zM493 358h1v1h-1zM493 359h2v1h-2zM493 360h2v1h-2zM465 361h1v1h-1zM468 361h3v1h-3zM472 361h1v1h-1zM493 361h3v1h-3zM466 362h1v1h-1zM468 362h1v1h-1zM471 362h2v1h-2zM537 362h1v1h-1zM465 363h1v1h-1zM472 363h1v1h-1zM537 363h1v1h-1zM465 364h1v1h-1zM467 364h5v1h-5zM473 364h1v1h-1zM467 365h7v1h-7zM465 366h8v1h-8zM465 367h7v1h-7zM465 368h1v1h-1zM467 368h2v1h-2zM470 368h4v1h-4zM465 369h8v1h-8zM464 370h6v1h-6zM471 370h1v1h-1zM466 371h3v1h-3zM470 371h1v1h-1zM464 372h1v1h-1zM466 372h2v1h-2zM469 372h1v1h-1zM537 372h2v1h-2zM464 373h2v1h-2zM524 373h3v1h-3zM538 373h4v1h-4zM525 374h2v1h-2zM541 374h1v1h-1zM480 375h2v1h-2zM526 375h2v1h-2zM542 375h2v1h-2zM480 376h2v1h-2zM526 376h2v1h-2zM460 377h1v1h-1zM527 377h1v1h-1zM460 378h3v1h-3zM483 378h2v1h-2zM460 379h3v1h-3zM459 380h3v1h-3zM481 380h2v1h-2zM459 381h3v1h-3zM481 381h2v1h-2zM459 382h2v1h-2zM457 383h4v1h-4zM555 383h1v1h-1zM457 384h3v1h-3zM555 384h3v1h-3zM457 385h2v1h-2zM556 385h1v1h-1zM457 386h2v1h-2zM557 386h2v1h-2zM456 387h3v1h-3zM558 387h1v1h-1zM565 388h1v1h-1zM514 389h1v1h-1zM563 389h3v1h-3zM224 390h2v1h-2zM512 390h2v1h-2zM563 390h4v1h-4zM223 391h3v1h-3zM511 391h1v1h-1zM513 391h1v1h-1zM564 391h4v1h-4zM225 392h2v1h-2zM566 392h2v1h-2zM226 393h2v1h-2zM563 393h1v1h-1zM566 393h2v1h-2zM227 394h2v1h-2zM562 394h3v1h-3zM567 394h1v1h-1zM227 395h2v1h-2zM560 395h6v1h-6zM228 396h3v1h-3zM561 396h5v1h-5zM229 397h3v1h-3zM561 397h6v1h-6zM230 398h2v1h-2zM563 398h4v1h-4zM231 399h2v1h-2zM562 399h6v1h-6zM232 400h3v1h-3zM563 400h6v1h-6zM234 401h2v1h-2zM564 401h5v1h-5zM234 402h3v1h-3zM565 402h5v1h-5zM235 403h3v1h-3zM566 403h5v1h-5zM236 404h2v1h-2zM566 404h5v1h-5zM237 405h2v1h-2zM567 405h5v1h-5zM238 406h2v1h-2zM488 406h2v1h-2zM568 406h4v1h-4zM238 407h3v1h-3zM568 407h3v1h-3zM529 413h2v1h-2zM547 413h2v1h-2zM528 414h3v1h-3zM547 414h2v1h-2zM530 415h1v1h-1zM547 415h2v1h-2zM415 446h1v1h-1zM418 446h2v1h-2zM415 447h1v1h-1zM417 447h4v1h-4zM416 448h6v1h-6zM415 449h1v1h-1zM417 449h2v1h-2zM422 449h1v1h-1zM440 451h1v1h-1zM441 452h3v1h-3zM492 454h3v1h-3zM492 455h4v1h-4zM501 455h1v1h-1zM503 455h3v1h-3zM508 455h1v1h-1zM493 456h3v1h-3zM501 456h6v1h-6zM508 456h1v1h-1zM493 457h1v1h-1zM503 457h4v1h-4zM501 458h1v1h-1zM503 458h6v1h-6zM503 459h1v1h-1zM507 459h1v1h-1zM498 460h3v1h-3zM495 461h5v1h-5zM482 462h2v1h-2zM496 462h1v1h-1zM477 463h7v1h-7zM434 464h1v1h-1zM477 464h6v1h-6zM430 465h1v1h-1zM432 465h4v1h-4zM477 465h3v1h-3zM432 466h3v1h-3zM483 466h4v1h-4zM488 466h5v1h-5zM430 467h5v1h-5zM483 467h1v1h-1zM485 467h1v1h-1zM487 467h1v1h-1zM492 467h1v1h-1zM430 468h2v1h-2zM434 468h1v1h-1zM436 468h1v1h-1zM484 468h10v1h-10zM483 469h10v1h-10zM435 470h1v1h-1zM439 470h1v1h-1zM471 470h2v1h-2zM483 470h10v1h-10zM436 471h3v1h-3zM471 471h1v1h-1zM483 471h2v1h-2zM486 471h2v1h-2zM490 471h3v1h-3zM435 472h4v1h-4zM485 472h1v1h-1zM435 473h1v1h-1zM437 473h2v1h-2zM483 473h4v1h-4zM436 474h1v1h-1zM481 474h5v1h-5zM479 475h5v1h-5zM579 475h2v1h-2zM479 476h5v1h-5zM579 476h2v1h-2zM479 477h2v1h-2zM558 477h3v1h-3zM473 478h3v1h-3zM558 478h3v1h-3zM386 479h3v1h-3zM390 479h1v1h-1zM472 479h4v1h-4zM386 480h3v1h-3zM390 480h1v1h-1zM468 480h6v1h-6zM475 480h1v1h-1zM386 481h2v1h-2zM467 481h6v1h-6zM467 482h4v1h-4zM467 483h2v1h-2zM438 487h3v1h-3zM443 487h1v1h-1zM462 487h1v1h-1zM440 488h1v1h-1zM442 488h1v1h-1zM444 488h1v1h-1zM461 488h3v1h-3zM586 488h1v1h-1zM265 489h1v1h-1zM441 489h1v1h-1zM443 489h4v1h-4zM460 489h4v1h-4zM585 489h2v1h-2zM264 490h2v1h-2zM441 490h4v1h-4zM446 490h2v1h-2zM459 490h3v1h-3zM560 490h2v1h-2zM587 490h2v1h-2zM264 491h1v1h-1zM266 491h1v1h-1zM438 491h2v1h-2zM441 491h4v1h-4zM446 491h2v1h-2zM460 491h1v1h-1zM588 491h1v1h-1zM440 492h2v1h-2zM443 492h1v1h-1zM446 492h2v1h-2zM438 493h3v1h-3zM443 493h1v1h-1zM446 493h1v1h-1zM582 494h2v1h-2zM582 495h3v1h-3zM419 496h1v1h-1zM423 496h5v1h-5zM582 496h2v1h-2zM421 497h2v1h-2zM424 497h2v1h-2zM428 497h1v1h-1zM582 497h3v1h-3zM419 498h1v1h-1zM421 498h4v1h-4zM426 498h3v1h-3zM582 498h2v1h-2zM420 499h3v1h-3zM424 499h3v1h-3zM428 499h1v1h-1zM582 499h2v1h-2zM419 500h3v1h-3zM423 500h2v1h-2zM431 500h2v1h-2zM582 500h3v1h-3zM418 501h2v1h-2zM421 501h2v1h-2zM426 501h1v1h-1zM428 501h3v1h-3zM582 501h2v1h-2zM582 502h2v1h-2zM583 503h2v1h-2zM583 504h2v1h-2zM582 505h3v1h-3zM583 506h2v1h-2zM420 507h1v1h-1zM422 507h1v1h-1zM424 507h1v1h-1zM426 507h1v1h-1zM430 507h1v1h-1zM560 507h3v1h-3zM583 507h2v1h-2zM418 508h2v1h-2zM421 508h1v1h-1zM425 508h3v1h-3zM511 508h1v1h-1zM561 508h2v1h-2zM419 509h3v1h-3zM423 509h1v1h-1zM425 509h3v1h-3zM429 509h1v1h-1zM509 509h3v1h-3zM561 509h3v1h-3zM419 510h9v1h-9zM511 510h1v1h-1zM561 510h2v1h-2zM420 511h8v1h-8zM429 511h2v1h-2zM510 511h1v1h-1zM562 511h2v1h-2zM419 512h7v1h-7zM427 512h3v1h-3zM562 512h2v1h-2zM236 513h1v1h-1zM238 513h2v1h-2zM422 513h1v1h-1zM425 513h2v1h-2zM428 513h3v1h-3zM562 513h2v1h-2zM233 514h2v1h-2zM236 514h5v1h-5zM421 514h1v1h-1zM423 514h2v1h-2zM427 514h1v1h-1zM430 514h1v1h-1zM231 515h2v1h-2zM234 515h7v1h-7zM424 515h1v1h-1zM427 515h1v1h-1zM228 516h13v1h-13zM424 516h1v1h-1zM428 516h1v1h-1zM225 517h2v1h-2zM228 517h10v1h-10zM239 517h1v1h-1zM426 517h1v1h-1zM428 517h2v1h-2zM225 518h1v1h-1zM227 518h8v1h-8zM236 518h1v1h-1zM425 518h6v1h-6zM225 519h7v1h-7zM233 519h3v1h-3zM261 519h2v1h-2zM429 519h1v1h-1zM225 520h6v1h-6zM261 520h2v1h-2zM280 520h1v1h-1zM424 520h1v1h-1zM226 521h7v1h-7zM279 521h2v1h-2zM202 522h1v1h-1zM226 522h9v1h-9zM279 522h2v1h-2zM200 523h3v1h-3zM231 523h1v1h-1zM233 523h5v1h-5zM558 523h3v1h-3zM201 524h1v1h-1zM234 524h4v1h-4zM321 524h3v1h-3zM558 524h3v1h-3zM321 525h2v1h-2zM321 526h2v1h-2zM283 527h2v1h-2zM321 527h2v1h-2zM197 528h1v1h-1zM206 528h2v1h-2zM283 528h2v1h-2zM322 528h1v1h-1zM197 529h1v1h-1zM206 529h2v1h-2zM322 529h2v1h-2zM323 530h1v1h-1zM558 530h2v1h-2zM444 531h1v1h-1zM558 531h2v1h-2zM443 532h3v1h-3zM431 533h1v1h-1zM433 533h1v1h-1zM432 534h1v1h-1zM434 534h1v1h-1zM432 535h1v1h-1zM434 535h1v1h-1zM558 535h2v1h-2zM187 547h1v1h-1zM190 547h2v1h-2zM193 547h1v1h-1zM198 547h2v1h-2zM187 548h1v1h-1zM190 548h8v1h-8zM188 549h1v1h-1zM190 549h3v1h-3zM194 549h6v1h-6zM201 549h2v1h-2zM187 550h1v1h-1zM191 550h2v1h-2zM195 550h2v1h-2zM198 550h2v1h-2zM202 550h1v1h-1zM187 551h1v1h-1zM190 551h4v1h-4zM195 551h2v1h-2zM199 551h1v1h-1zM195 552h1v1h-1zM202 552h3v1h-3zM206 552h1v1h-1zM208 552h1v1h-1zM255 552h2v1h-2zM191 553h1v1h-1zM200 553h1v1h-1zM203 553h1v1h-1zM207 553h1v1h-1zM212 553h1v1h-1zM256 553h2v1h-2zM193 554h1v1h-1zM197 554h10v1h-10zM208 554h1v1h-1zM255 554h1v1h-1zM191 555h3v1h-3zM197 555h2v1h-2zM200 555h5v1h-5zM206 555h1v1h-1zM194 556h1v1h-1zM197 556h5v1h-5zM203 556h4v1h-4zM208 556h2v1h-2zM211 556h1v1h-1zM193 557h1v1h-1zM195 557h2v1h-2zM201 557h1v1h-1zM208 557h1v1h-1zM210 557h3v1h-3zM186 558h2v1h-2zM189 558h3v1h-3zM193 558h1v1h-1zM195 558h1v1h-1zM197 558h2v1h-2zM200 558h1v1h-1zM202 558h2v1h-2zM208 558h1v1h-1zM186 559h1v1h-1zM188 559h1v1h-1zM192 559h1v1h-1zM194 559h2v1h-2zM198 559h2v1h-2zM202 559h2v1h-2zM205 559h1v1h-1zM208 559h1v1h-1zM248 559h2v1h-2zM189 560h8v1h-8zM207 560h2v1h-2zM188 561h1v1h-1zM190 561h4v1h-4zM195 561h1v1h-1zM200 561h1v1h-1zM208 561h3v1h-3zM186 562h1v1h-1zM188 562h1v1h-1zM190 562h1v1h-1zM192 562h1v1h-1zM195 562h1v1h-1zM198 562h3v1h-3zM202 562h2v1h-2zM205 562h2v1h-2zM208 562h2v1h-2zM195 563h1v1h-1zM198 563h10v1h-10zM210 563h1v1h-1zM199 564h11v1h-11zM177 565h2v1h-2zM180 565h1v1h-1zM195 565h1v1h-1zM198 565h6v1h-6zM206 565h3v1h-3zM175 566h1v1h-1zM178 566h1v1h-1zM180 566h1v1h-1zM198 566h6v1h-6zM209 566h1v1h-1zM195 567h1v1h-1zM197 567h1v1h-1zM204 567h1v1h-1zM207 567h3v1h-3zM197 568h1v1h-1zM202 568h2v1h-2zM207 568h1v1h-1zM210 568h2v1h-2z"/>
<path fill="#c0c0c0" d="M626 70h3v1h-3zM619 80h2v2h-2zM603 104h2v1h-2zM606 101h2v1h-2zM192 546h5v2h-5zM204 552h5v3h-5zM206 555h2v3h-2zM279 520h1v2h-1zM468 363h4v2h-4zM466 369h2v2h-2zM485 469h5v2h-5zM468 480h4v2h-4zM418 446h4v2h-4zM582 495h2v3h-2zM582 502h2v2h-2zM561 508h2v2h-2zM501 457h5v3h-5zM484 468h4v2h-4z"/>
</g>
<g stroke="#000" stroke-width="1" shape-rendering="crispEdges">
<line x1="130.5" y1="38" x2="130.5" y2="43"/><line x1="130.5" y1="565" x2="130.5" y2="570"/>
<line x1="163.5" y1="38" x2="163.5" y2="43"/><line x1="163.5" y1="565" x2="163.5" y2="570"/>
<line x1="197.5" y1="38" x2="197.5" y2="43"/><line x1="197.5" y1="565" x2="197.5" y2="570"/>
<line x1="231.5" y1="38" x2="231.5" y2="43"/><line x1="231.5" y1="565" x2="231.5" y2="570"/>
<line x1="265.5" y1="38" x2="265.5" y2="43"/><line x1="265.5" y1="565" x2="265.5" y2="570"/>
<line x1="299.5" y1="38" x2="299.5" y2="43"/><line x1="299.5" y1="565" x2="299.5" y2="570"/>
<line x1="332.5" y1="38" x2="332.5" y2="43"/><line x1="332.5" y1="565" x2="332.5" y2="570"/>
<line x1="366.5" y1="38" x2="366.5" y2="43"/><line x1="366.5" y1="565" x2="366.5" y2="570"/>
<line x1="400.5" y1="38" x2="400.5" y2="43"/><line x1="400.5" y1="565" x2="400.5" y2="570"/>
<line x1="434.5" y1="38" x2="434.5" y2="43"/><line x1="434.5" y1="565" x2="434.5" y2="570"/>
<line x1="468.5" y1="38" x2="468.5" y2="43"/><line x1="468.5" y1="565" x2="468.5" y2="570"/>
<line x1="501.5" y1="38" x2="501.5" y2="43"/><line x1="501.5" y1="565" x2="501.5" y2="570"/>
<line x1="535.5" y1="38" x2="535.5" y2="43"/><line x1="535.5" y1="565" x2="535.5" y2="570"/>
<line x1="569.5" y1="38" x2="569.5" y2="43"/><line x1="569.5" y1="565" x2="569.5" y2="570"/>
<line x1="603.5" y1="38" x2="603.5" y2="43"/><line x1="603.5" y1="565" x2="603.5" y2="570"/>
<line x1="113" y1="536.5" x2="118" y2="536.5"/><line x1="632" y1="536.5" x2="637" y2="536.5"/>
<line x1="113" y1="502.5" x2="118" y2="502.5"/><line x1="632" y1="502.5" x2="637" y2="502.5"/>
<line x1="113" y1="468.5" x2="118" y2="468.5"/><line x1="632" y1="468.5" x2="637" y2="468.5"/>
<line x1="113" y1="434.5" x2="118" y2="434.5"/><line x1="632" y1="434.5" x2="637" y2="434.5"/>
<line x1="113" y1="400.5" x2="118" y2="400.5"/><line x1="632" y1="400.5" x2="637" y2="400.5"/>
<line x1="113" y1="365.5" x2="118" y2="365.5"/><line x1="632" y1="365.5" x2="637" y2="365.5"/>
<line x1="113" y1="331.5" x2="118" y2="331.5"/><line x1="632" y1="331.5" x2="637" y2="331.5"/>
<line x1="113" y1="296.5" x2="118" y2="296.5"/><line x1="632" y1="296.5" x2="637" y2="296.5"/>
<line x1="113" y1="260.5" x2="118" y2="260.5"/><line x1="632" y1="260.5" x2="637" y2="260.5"/>
<line x1="113" y1="225.5" x2="118" y2="225.5"/><line x1="632" y1="225.5" x2="637" y2="225.5"/>
<line x1="113" y1="188.5" x2="118" y2="188.5"/><line x1="632" y1="188.5" x2="637" y2="188.5"/>
<line x1="113" y1="152.5" x2="118" y2="152.5"/><line x1="632" y1="152.5" x2="637" y2="152.5"/>
<line x1="113" y1="114.5" x2="118" y2="114.5"/><line x1="632" y1="114.5" x2="637" y2="114.5"/>
<line x1="113" y1="76.5" x2="118" y2="76.5"/><line x1="632" y1="76.5" x2="637" y2="76.5"/>
</g>
<rect x="112" y="37" width="526" height="534" fill="none" stroke="#000" stroke-width="2" shape-rendering="crispEdges"/>
<text x="248.5" y="19.9" font-size="13.4" textLength="253.5" lengthAdjust="spacing">Significant Wave Height with Wave Direction</text>
<text class="i" x="284.5" y="32" font-size="12" textLength="183.5" lengthAdjust="spacing">Valid For Jun-16-2014 18:00 GMT</text>
<text class="i" x="119.3" y="588" font-size="11" textLength="27.6" lengthAdjust="spacing">100 E</text>
<text class="i" x="203.8" y="588" font-size="11" textLength="27.6" lengthAdjust="spacing">105 E</text>
<text class="i" x="289.6" y="588" font-size="11" textLength="27.6" lengthAdjust="spacing">110 E</text>
<text class="i" x="373.5" y="588" font-size="11" textLength="27.6" lengthAdjust="spacing">115 E</text>
<text class="i" x="457.6" y="588" font-size="11" textLength="27.6" lengthAdjust="spacing">120 E</text>
<text class="i" x="541.6" y="588" font-size="11" textLength="27.6" lengthAdjust="spacing">125 E</text>
<text class="i" x="626.5" y="588" font-size="11" textLength="27.6" lengthAdjust="spacing">130 E</text>
<text class="i" x="645.3" y="42" font-size="11" textLength="23.7" lengthAdjust="spacing">30 N</text>
<text class="i" x="645.3" y="137" font-size="11" textLength="23.7" lengthAdjust="spacing">25 N</text>
<text class="i" x="645.3" y="229" font-size="11" textLength="23.7" lengthAdjust="spacing">20 N</text>
<text class="i" x="645.3" y="318" font-size="11" textLength="23.7" lengthAdjust="spacing">15 N</text>
<text class="i" x="645.3" y="404" font-size="11" textLength="23.7" lengthAdjust="spacing">10 N</text>
<text class="i" x="645.3" y="489" font-size="11" textLength="17.6" lengthAdjust="spacing">5 N</text>
<text class="i" x="645.3" y="574" font-size="11">0</text>
<text x="113.5" y="602" font-size="11" textLength="90" lengthAdjust="spacing">oceanweather inc.</text>
<text class="i" x="522.5" y="599.5" font-size="8.5" textLength="114" lengthAdjust="spacingAndGlyphs">Plotted at Jun 16, 2014 12:12 GMT</text>
<g shape-rendering="crispEdges">
<rect x="255" y="629" width="4" height="13" fill="#0000ff"/>
<rect x="259" y="629" width="4" height="13" fill="#0010ff"/>
<rect x="263" y="629" width="3" height="13" fill="#0020ff"/>
<rect x="266" y="629" width="4" height="13" fill="#0031ff"/>
<rect x="270" y="629" width="4" height="13" fill="#0041ff"/>
<rect x="274" y="629" width="4" height="13" fill="#0051ff"/>
<rect x="278" y="629" width="3" height="13" fill="#0061ff"/>
<rect x="281" y="629" width="4" height="13" fill="#0071ff"/>
<rect x="285" y="629" width="4" height="13" fill="#0082ff"/>
<rect x="289" y="629" width="4" height="13" fill="#0092ff"/>
<rect x="293" y="629" width="3" height="13" fill="#00a2ff"/>
<rect x="296" y="629" width="4" height="13" fill="#00b2ff"/>
<rect x="300" y="629" width="4" height="13" fill="#00c2ff"/>
<rect x="304" y="629" width="4" height="13" fill="#00d2ff"/>
<rect x="308" y="629" width="3" height="13" fill="#00e3ff"/>
<rect x="311" y="629" width="4" height="13" fill="#00f3ff"/>
<rect x="315" y="629" width="4" height="13" fill="#00fffb"/>
<rect x="319" y="629" width="4" height="13" fill="#00ffeb"/>
<rect x="323" y="629" width="4" height="13" fill="#00ffdb"/>
<rect x="327" y="629" width="3" height="13" fill="#00ffca"/>
<rect x="330" y="629" width="4" height="13" fill="#00ffba"/>
<rect x="334" y="629" width="4" height="13" fill="#00ffaa"/>
<rect x="338" y="629" width="4" height="13" fill="#00ff9a"/>
<rect x="342" y="629" width="3" height="13" fill="#00ff8a"/>
<rect x="345" y="629" width="4" height="13" fill="#00ff79"/>
<rect x="349" y="629" width="4" height="13" fill="#00ff69"/>
<rect x="353" y="629" width="4" height="13" fill="#00ff59"/>
<rect x="357" y="629" width="3" height="13" fill="#00ff49"/>
<rect x="360" y="629" width="4" height="13" fill="#00ff39"/>
<rect x="364" y="629" width="4" height="13" fill="#00ff28"/>
<rect x="368" y="629" width="4" height="13" fill="#00ff18"/>
<rect x="372" y="629" width="3" height="13" fill="#00ff08"/>
<rect x="375" y="629" width="4" height="13" fill="#08ff00"/>
<rect x="379" y="629" width="4" height="13" fill="#18ff00"/>
<rect x="383" y="629" width="4" height="13" fill="#28ff00"/>
<rect x="387" y="629" width="4" height="13" fill="#39ff00"/>
<rect x="391" y="629" width="3" height="13" fill="#49ff00"/>
<rect x="394" y="629" width="4" height="13" fill="#59ff00"/>
<rect x="398" y="629" width="4" height="13" fill="#69ff00"/>
<rect x="402" y="629" width="4" height="13" fill="#79ff00"/>
<rect x="406" y="629" width="3" height="13" fill="#8aff00"/>
<rect x="409" y="629" width="4" height="13" fill="#9aff00"/>
<rect x="413" y="629" width="4" height="13" fill="#aaff00"/>
<rect x="417" y="629" width="4" height="13" fill="#baff00"/>
<rect x="421" y="629" width="3" height="13" fill="#caff00"/>
<rect x="424" y="629" width="4" height="13" fill="#dbff00"/>
<rect x="428" y="629" width="4" height="13" fill="#ebff00"/>
<rect x="432" y="629" width="4" height="13" fill="#fbff00"/>
<rect x="436" y="629" width="4" height="13" fill="#fff300"/>
<rect x="440" y="629" width="3" height="13" fill="#ffe300"/>
<rect x="443" y="629" width="4" height="13" fill="#ffd200"/>
<rect x="447" y="629" width="4" height="13" fill="#ffc200"/>
<rect x="451" y="629" width="4" height="13" fill="#ffb200"/>
<rect x="455" y="629" width="3" height="13" fill="#ffa200"/>
<rect x="458" y="629" width="4" height="13" fill="#ff9200"/>
<rect x="462" y="629" width="4" height="13" fill="#ff8200"/>
<rect x="466" y="629" width="4" height="13" fill="#ff7100"/>
<rect x="470" y="629" width="3" height="13" fill="#ff6100"/>
<rect x="473" y="629" width="4" height="13" fill="#ff5100"/>
<rect x="477" y="629" width="4" height="13" fill="#ff4100"/>
<rect x="481" y="629" width="4" height="13" fill="#ff3100"/>
<rect x="485" y="629" width="3" height="13" fill="#ff2000"/>
<rect x="488" y="629" width="4" height="13" fill="#ff1000"/>
<rect x="492" y="629" width="4" height="13" fill="#ff0000"/>
</g>
<rect x="255" y="629" width="2" height="13" fill="#000" shape-rendering="crispEdges"/>
<text x="305.5" y="614" font-size="9.3" stroke="none" textLength="138.5" lengthAdjust="spacing">Significant Wave Height (Meters)</text>
<text x="310.5" y="661.8" font-size="9.3" stroke="none" textLength="129" lengthAdjust="spacing">Significant Wave Height (Feet)</text>
<g font-size="9.2" text-anchor="middle" stroke="none">
<text x="256.3" y="625.7">0</text>
<text x="276.4" y="625.7">1</text>
<text x="296.4" y="625.7">2</text>
<text x="316.5" y="625.7">3</text>
<text x="336.5" y="625.7">4</text>
<text x="356.6" y="625.7">5</text>
<text x="376.6" y="625.7">6</text>
<text x="396.6" y="625.7">7</text>
<text x="416.7" y="625.7">8</text>
<text x="436.8" y="625.7">9</text>
<text x="456.8" y="625.7">10</text>
<text x="476.9" y="625.7">11</text>
<text x="496.9" y="625.7">12</text>
<text x="256.3" y="649.7">0</text>
<text x="286.4" y="649.7">5</text>
<text x="316.5" y="649.7">10</text>
<text x="346.6" y="649.7">15</text>
<text x="376.7" y="649.7">20</text>
<text x="406.8" y="649.7">25</text>
<text x="436.9" y="649.7">30</text>
<text x="467" y="649.7">35</text>
<text x="497.1" y="649.7">40</text>
</g>
</svg></body></html>
